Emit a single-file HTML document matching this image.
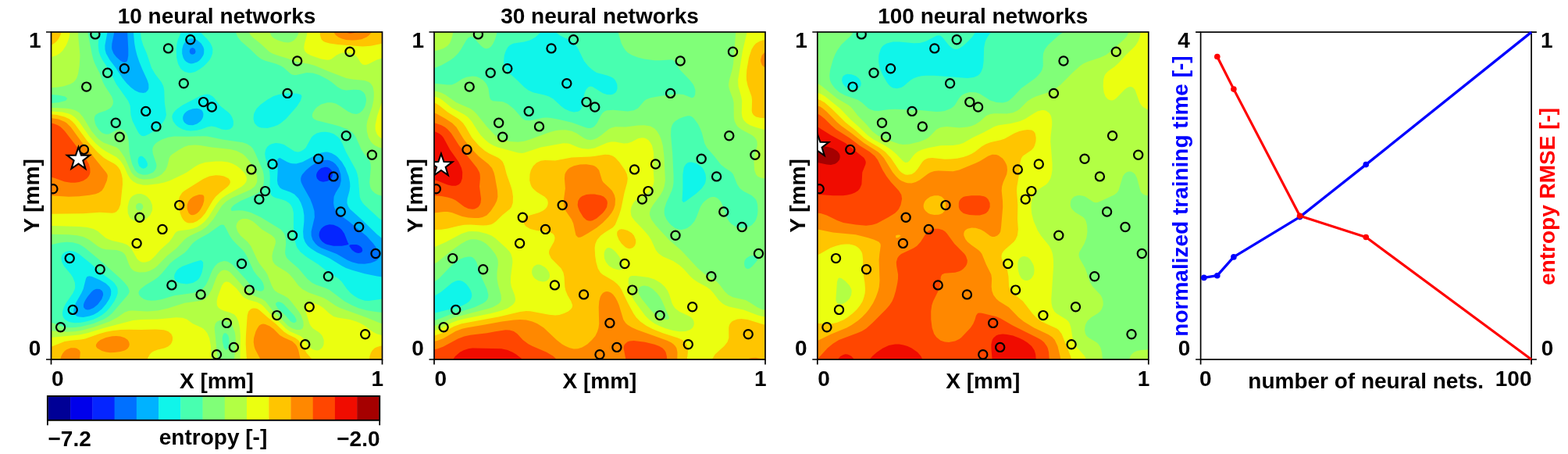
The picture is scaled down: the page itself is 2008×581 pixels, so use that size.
<!DOCTYPE html>
<html><head><meta charset="utf-8"><title>Neural network entropy maps</title>
<style>html,body{margin:0;padding:0;background:#fff;overflow:hidden}svg{display:block}</style>
</head><body>
<svg width="2008" height="581" viewBox="0 0 2008 581">
<rect width="2008" height="581" fill="#fff"/>
<defs>
<clipPath id="clip0"><rect x="0" y="0" width="424.0" height="419.0"/></clipPath>
<clipPath id="clip1"><rect x="0" y="0" width="424.0" height="419.0"/></clipPath>
<clipPath id="clip2"><rect x="0" y="0" width="424.0" height="419.0"/></clipPath>
</defs>
<g transform="translate(65.5 41.0)" clip-path="url(#clip0)">
<rect x="0" y="0" width="424.0" height="419.0" fill="#000096"/>
<path fill="#0000EB" fill-rule="evenodd" d="M-2.0 -2.0 426.0 -2.0 426.0 421.0 -2.0 421.0 -2.0 -2.0 -2.0 -2.0Z"/>
<path fill="#0525FF" fill-rule="evenodd" d="M-2.0 -2.0 426.0 -2.0 426.0 421.0 -2.0 421.0 -2.0 -2.0 -2.0 -2.0Z"/>
<path fill="#0070FF" fill-rule="evenodd" d="M-2.0 -2.0 426.0 -2.0 426.0 421.0 -2.0 421.0 -2.0 -2.0 -2.0 -2.0ZM346.0 174.1 342.6 176.8 340.7 179.4 339.7 182.0 339.6 184.6 340.5 187.6 343.2 190.3 345.8 191.3 348.5 191.7 353.8 190.8 356.4 189.4 358.7 187.2 360.1 184.6 360.5 182.0 360.1 179.4 359.0 176.8 356.4 174.2 353.8 173.1 351.1 172.8 346.0 174.1ZM351.5 247.5 348.5 249.2 345.8 251.8 343.8 255.3 343.2 257.9 343.1 260.6 343.8 263.2 345.1 265.8 347.5 268.4 351.1 270.9 353.8 272.0 361.7 273.8 372.3 273.7 377.6 272.8 380.3 272.0 381.2 271.0 380.3 270.2 375.5 257.9 372.3 253.3 369.7 250.7 367.0 248.9 361.7 246.8 356.4 246.3 351.5 247.5ZM381.6 273.7 385.4 278.9 388.7 281.5 390.9 282.4 393.5 282.9 396.2 282.5 397.9 281.5 398.8 279.3 397.9 276.3 396.2 274.4 393.5 272.8 390.9 272.1 385.6 271.9 382.9 272.3 381.6 273.7Z"/>
<path fill="#00B2FF" fill-rule="evenodd" d="M-2.0 -2.0 80.8 -2.0 81.0 -2.0 80.1 3.9 77.9 14.4 77.6 19.6 77.9 22.3 80.0 27.5 83.5 32.1 88.8 36.7 91.4 38.3 94.1 38.9 96.7 37.9 97.9 35.4 98.8 30.1 98.8 22.3 97.6 -1.3 97.6 -2.0 426.0 -2.0 426.0 421.0 -2.0 421.0 -2.0 -2.0 -2.0 -2.0ZM177.7 22.3 177.1 24.9 178.1 27.5 178.9 28.3 181.5 28.8 184.2 27.4 185.1 24.9 184.2 21.7 181.5 20.1 178.9 20.8 177.7 22.3ZM341.1 166.3 332.7 171.5 326.5 176.8 321.8 182.0 320.4 184.6 319.7 187.2 319.7 189.9 320.3 192.5 322.8 197.7 331.7 213.4 334.7 221.3 337.0 229.1 337.4 237.0 333.1 255.3 333.2 260.6 334.8 265.8 338.6 271.0 341.6 273.7 345.8 276.3 365.7 284.1 379.6 292.0 385.6 294.5 393.5 296.4 401.5 296.8 409.4 295.6 414.7 293.4 417.1 292.0 419.8 289.4 421.0 286.8 420.8 284.1 418.4 278.9 412.8 271.0 404.1 261.3 381.1 242.2 369.7 233.9 364.9 229.1 363.4 226.5 362.4 223.9 361.6 218.7 362.1 210.8 364.4 205.6 369.7 196.9 371.3 189.9 370.8 182.0 368.0 174.1 364.2 168.9 360.8 166.3 356.4 164.3 353.8 163.8 348.5 163.9 341.1 166.3ZM58.3 328.7 57.0 328.9 54.3 330.2 51.7 332.5 46.4 339.1 43.7 343.3 42.0 347.0 41.4 349.6 41.6 352.2 43.7 354.8 46.4 355.4 49.0 355.2 54.3 353.1 59.6 348.7 64.8 341.7 66.6 336.5 66.5 333.9 65.3 331.3 62.3 329.1 58.3 328.7Z"/>
<path fill="#10F5EA" fill-rule="evenodd" d="M-2.0 -2.0 72.3 -2.0 72.6 -2.0 72.3 -1.3 68.9 17.0 69.0 22.3 70.4 27.5 74.9 35.4 82.7 45.8 91.4 59.0 96.7 65.5 102.0 70.7 107.3 74.7 112.6 77.3 117.9 78.1 121.2 77.3 123.9 74.6 124.9 72.0 124.8 66.8 123.1 61.5 117.1 48.4 112.6 37.5 110.0 29.8 108.1 22.3 106.7 14.4 105.7 3.9 105.4 -2.0 426.0 -2.0 426.0 264.6 426.0 265.8 425.3 264.6 422.7 263.2 417.4 259.1 398.8 241.0 382.6 226.5 380.3 223.1 378.9 218.7 379.2 213.4 382.1 203.0 382.8 197.7 382.6 192.5 380.9 184.6 376.9 174.1 372.3 166.2 367.0 160.2 364.4 158.1 359.1 155.0 353.8 153.6 351.1 153.6 345.8 154.5 340.5 156.6 322.0 166.3 314.0 168.4 308.7 168.3 306.1 167.8 302.3 166.3 292.8 161.1 290.2 162.3 289.6 166.3 290.2 176.8 289.5 189.9 290.3 195.1 292.8 199.1 295.5 201.0 306.1 204.7 311.4 207.6 316.7 213.1 319.9 218.7 322.6 226.5 323.9 234.4 323.9 242.2 322.6 255.3 323.2 263.2 325.1 268.4 326.7 271.0 328.8 273.7 332.6 277.1 340.5 282.1 356.5 289.4 372.3 299.3 377.6 301.9 385.6 304.8 401.5 309.2 417.4 312.5 426.0 313.6 426.0 313.5 426.0 421.0 -2.0 421.0 -2.0 -2.0 -2.0 -2.0ZM175.9 9.2 172.3 11.8 170.3 14.4 169.0 17.0 167.7 22.3 167.7 27.5 169.1 32.7 170.9 35.9 173.0 38.0 176.2 39.8 178.9 40.4 181.5 40.3 186.8 38.5 189.5 36.7 192.1 34.1 194.7 30.1 195.6 27.5 195.8 22.3 194.8 18.9 192.1 14.6 186.8 10.2 181.5 8.3 178.9 8.3 175.9 9.2ZM181.4 98.2 176.2 100.0 173.6 101.6 170.9 104.1 169.6 106.1 168.7 108.7 168.7 111.3 169.5 113.9 170.9 115.9 173.6 117.9 176.2 119.0 181.5 119.3 186.8 117.6 191.5 113.9 193.4 111.3 194.5 108.7 194.9 106.1 194.7 103.4 193.5 100.8 192.1 99.6 189.5 98.2 186.8 97.8 181.4 98.2ZM46.0 312.9 44.5 315.6 41.2 328.7 38.8 333.9 31.4 347.0 28.8 354.8 28.7 357.5 29.3 360.1 30.5 361.8 33.1 363.7 35.8 364.6 41.1 364.9 49.0 363.6 54.3 361.7 59.6 358.7 64.9 354.4 70.2 348.3 74.4 341.7 76.5 336.5 76.8 331.3 76.1 328.7 74.6 326.0 70.2 321.8 62.3 317.3 51.7 312.8 49.0 312.2 46.0 312.9Z"/>
<path fill="#48FFB0" fill-rule="evenodd" d="M-2.0 -2.0 62.5 -2.0 62.7 -2.0 60.6 11.8 60.3 17.0 61.1 24.9 62.8 30.1 65.5 35.4 74.1 48.4 83.4 66.8 98.4 87.7 100.7 93.0 101.3 95.6 102.0 106.1 104.2 113.9 110.0 125.6 112.6 129.9 115.3 132.5 117.9 133.3 120.6 132.8 125.9 130.2 131.2 126.8 137.6 121.8 142.5 116.5 146.0 111.3 147.5 106.1 145.3 90.3 144.8 74.6 143.8 69.4 141.3 64.2 133.2 53.7 128.5 45.8 122.5 27.5 117.9 16.9 115.5 9.2 114.1 -1.3 114.0 -2.0 167.1 -2.0 168.5 -2.0 167.1 -1.3 162.4 9.2 161.0 14.4 160.1 22.3 160.6 32.7 162.5 40.6 165.6 46.4 168.3 49.1 170.9 50.8 176.2 52.3 178.9 52.3 184.2 50.9 189.5 48.1 194.8 44.2 198.7 40.6 203.1 35.4 204.6 32.7 206.6 27.5 206.9 22.3 206.4 19.6 204.1 14.4 200.0 9.2 192.2 1.3 188.4 -2.0 187.6 -2.0 187.6 -2.0 190.0 -2.0 426.0 -2.0 426.0 242.2 426.0 243.5 425.3 242.1 420.0 238.6 401.5 221.5 398.8 218.6 396.2 214.0 395.2 210.8 393.3 187.2 392.2 182.0 390.4 176.8 377.5 153.2 373.0 142.7 370.2 137.5 367.0 133.9 361.7 130.3 356.4 128.4 351.1 127.7 345.8 128.0 340.2 129.6 335.8 132.2 333.2 134.9 326.1 148.0 323.4 150.6 319.3 152.8 316.7 153.4 314.0 153.3 311.4 152.4 298.1 144.0 292.8 142.4 287.5 142.1 282.2 143.3 279.6 144.6 276.9 146.8 274.6 150.6 273.7 155.8 274.4 161.1 278.7 174.1 279.8 179.4 280.2 184.6 280.0 200.3 280.8 205.6 282.2 208.9 284.4 210.8 287.5 212.2 295.5 214.3 300.8 216.2 304.5 218.7 306.9 221.3 308.4 223.9 309.4 226.5 310.4 231.8 310.4 250.1 312.5 268.4 314.0 273.7 315.2 276.3 319.3 281.5 327.3 287.9 341.9 297.2 353.8 306.4 367.9 315.6 372.3 319.7 378.7 328.7 383.4 333.9 388.2 337.8 393.5 341.0 401.5 343.7 406.8 344.1 426.0 341.4 426.0 341.6 426.0 421.0 -2.0 421.0 -2.0 -2.0 -2.0 -2.0ZM196.4 79.9 192.1 81.2 168.3 93.6 161.5 98.2 158.7 100.8 156.6 103.4 155.3 106.1 154.8 108.7 156.1 113.9 160.0 119.2 163.1 121.8 168.3 124.6 173.6 126.1 178.9 126.6 186.8 125.8 192.0 124.4 200.1 121.4 205.4 120.4 210.7 121.5 218.6 124.4 223.9 125.2 228.7 124.4 231.9 122.1 233.3 119.2 233.4 113.9 231.6 108.7 229.2 105.1 226.6 102.5 217.7 95.6 215.2 93.0 209.5 85.1 207.0 82.5 202.7 80.1 200.1 79.6 196.4 79.9ZM291.4 79.9 284.9 82.0 276.9 86.5 268.0 93.0 262.9 98.2 260.1 103.4 259.4 106.1 259.0 111.3 260.4 116.5 263.7 120.3 266.3 121.8 269.0 122.6 276.9 122.9 284.9 121.1 290.2 118.9 294.2 116.5 300.8 110.9 314.5 95.6 319.5 87.7 321.0 82.5 319.9 79.9 314.0 78.5 300.8 78.5 291.4 79.9ZM111.9 161.1 111.2 163.7 111.1 166.3 112.7 171.5 115.8 174.1 117.9 174.7 120.9 174.1 123.2 171.5 123.5 168.9 122.7 166.3 120.6 162.6 117.9 159.8 115.3 158.6 112.6 159.7 111.9 161.1ZM17.9 281.5 14.8 284.1 13.4 286.8 12.9 289.4 13.8 294.6 16.6 299.8 25.2 310.0 27.8 314.1 30.4 320.8 30.7 326.0 30.3 328.7 28.0 333.9 19.0 347.0 16.3 352.2 14.7 357.5 14.5 360.1 14.7 362.7 15.7 365.3 17.7 367.9 21.8 370.6 25.2 371.6 30.5 372.2 38.4 371.7 44.8 370.6 53.6 367.9 59.8 365.3 64.9 362.3 70.9 357.5 75.5 352.2 80.9 344.4 83.7 339.1 85.3 333.9 85.1 328.7 84.2 326.0 80.8 321.1 77.8 318.2 63.1 307.7 51.7 297.1 35.6 284.1 30.5 281.2 25.2 280.0 22.5 280.0 17.9 281.5ZM182.7 294.6 168.3 299.7 163.6 302.5 160.9 305.1 158.0 310.3 157.6 312.9 158.0 315.6 159.6 318.2 163.0 320.4 165.6 321.4 173.6 322.4 181.5 321.1 186.8 318.1 189.3 315.6 190.9 312.9 193.1 307.7 194.7 299.8 194.6 294.6 192.1 292.1 189.5 292.4 182.7 294.6ZM-2.0 328.7 -2.0 331.3 -2.0 331.9 -2.0 331.9 -2.0 331.3 -2.0 328.7 -2.0 327.1 -2.0 327.1 -2.0 328.7Z"/>
<path fill="#80FF78" fill-rule="evenodd" d="M-2.0 -2.0 46.8 -2.0 46.5 -2.0 47.1 1.3 52.1 27.5 54.1 35.4 56.0 40.6 62.3 52.9 66.3 64.2 69.1 69.4 77.6 82.5 79.4 87.7 79.4 90.3 78.9 93.0 77.4 95.6 75.5 97.5 70.2 100.4 61.0 103.4 57.0 106.1 55.6 108.7 55.3 111.3 56.3 116.5 57.3 119.2 60.6 124.4 64.9 128.7 67.6 130.1 70.2 130.8 72.9 130.8 75.5 130.1 83.5 125.4 86.1 124.4 88.8 124.2 91.4 125.0 94.3 127.0 96.7 130.3 98.5 134.9 99.3 140.1 100.1 153.2 101.6 161.1 103.7 168.9 107.4 176.8 110.0 179.5 112.6 181.2 117.9 182.7 123.2 182.5 128.5 180.6 130.6 179.4 133.1 176.8 134.4 174.1 134.9 171.5 134.8 168.9 130.3 155.8 129.7 150.6 130.2 148.0 131.5 145.3 133.6 142.7 136.5 140.4 141.8 137.5 149.7 134.7 157.7 133.5 176.2 133.8 194.8 133.2 200.1 133.4 219.2 137.5 245.1 141.3 250.4 143.0 255.7 146.2 258.4 149.2 261.0 154.2 270.9 176.8 272.1 182.0 272.6 187.2 272.3 192.5 271.2 197.7 268.5 203.0 263.7 207.0 242.8 216.0 234.1 221.3 231.4 223.9 230.0 226.5 231.1 229.1 239.8 228.3 245.1 228.4 250.4 229.4 255.7 231.0 268.5 237.0 294.2 252.7 298.1 257.4 300.3 263.2 300.7 271.0 299.6 281.5 299.8 284.1 300.8 287.2 302.1 289.4 304.6 292.0 316.7 302.5 327.7 315.6 333.9 320.8 339.2 323.4 351.1 327.6 356.4 330.1 375.6 344.4 384.9 349.6 393.5 353.2 404.1 356.3 417.4 358.3 426.0 359.0 426.0 358.9 426.0 421.0 -2.0 421.0 -2.0 371.3 -2.0 370.5 -2.0 370.7 1.3 372.1 14.6 376.9 19.9 377.9 25.2 378.3 30.5 378.1 38.4 377.1 54.3 372.9 67.6 367.4 72.9 364.2 77.9 360.1 98.2 336.5 99.7 333.9 100.3 331.3 98.2 326.0 94.0 320.8 88.8 315.5 65.4 294.6 43.7 276.5 39.7 273.7 35.8 271.6 27.8 269.3 19.9 268.8 11.9 269.5 -2.0 272.7 -2.0 272.3 -2.0 91.1 -1.3 91.1 9.3 90.3 18.8 87.7 20.6 85.1 17.9 82.5 9.3 80.7 -1.3 80.0 -2.0 80.0 -2.0 -2.0 -2.0 -2.0ZM215.9 247.5 201.2 257.9 187.2 265.8 183.4 268.4 180.6 271.0 174.4 278.9 170.9 282.5 157.7 291.6 152.4 296.0 141.8 308.7 136.5 314.1 131.2 317.8 121.4 323.4 114.6 328.7 112.6 331.3 111.9 333.9 112.7 336.5 114.8 339.1 118.7 341.7 123.2 343.2 128.5 343.8 133.8 343.5 141.8 342.0 157.7 337.2 181.5 334.0 189.5 331.6 194.8 327.8 198.2 323.4 200.9 318.2 206.3 305.1 209.6 299.8 213.3 296.1 216.0 294.5 221.3 293.1 223.9 293.3 226.6 294.1 231.9 297.6 250.4 317.8 257.0 326.0 259.8 328.7 263.7 330.8 266.3 331.6 269.0 331.7 271.6 330.4 272.6 328.7 272.7 326.0 271.2 320.8 269.0 317.2 262.7 310.3 259.0 305.1 250.6 286.8 247.8 282.1 245.1 278.8 237.0 271.0 232.2 265.8 228.6 260.6 223.9 251.3 221.3 247.1 218.6 246.4 215.9 247.5ZM287.6 347.0 287.8 349.6 290.2 353.6 300.1 362.7 306.1 369.7 308.7 371.5 311.4 372.2 314.0 370.6 314.0 367.8 311.4 362.9 298.1 348.6 295.5 346.6 292.8 345.5 290.2 345.2 287.6 347.0ZM220.8 386.3 219.7 388.9 219.2 391.5 219.5 396.7 221.3 404.2 223.9 407.0 226.6 404.5 227.3 402.0 228.1 396.7 227.7 391.5 226.6 388.0 223.9 385.3 221.3 385.6 220.8 386.3ZM237.2 -2.0 426.0 -2.0 426.0 210.0 426.0 210.4 422.7 209.5 418.3 208.2 414.7 206.3 411.1 203.0 409.4 200.3 408.5 197.7 407.7 192.5 409.4 174.1 409.1 168.9 408.4 166.3 407.1 163.7 400.8 155.8 397.3 150.6 390.5 134.9 388.2 131.3 385.6 128.5 380.3 125.1 369.7 120.8 361.7 118.4 340.5 113.3 336.5 111.3 334.5 108.7 334.3 106.1 335.0 103.4 337.9 98.8 340.5 96.0 345.8 92.5 353.8 90.2 359.1 90.2 364.4 91.5 369.7 94.5 380.3 101.7 385.6 104.2 390.9 105.0 393.5 104.3 396.2 102.8 398.8 100.3 401.5 96.0 402.6 93.0 403.5 87.7 403.4 85.1 402.1 79.9 400.2 77.3 396.3 74.6 393.5 74.0 388.2 73.8 377.6 74.6 372.3 73.6 367.0 70.4 359.5 64.2 353.8 60.5 343.2 55.1 335.2 52.4 327.3 52.1 314.0 55.0 311.4 55.0 308.7 54.4 306.1 53.0 298.1 45.8 294.2 43.2 287.5 40.4 274.3 36.8 269.0 34.4 263.7 30.5 255.3 22.3 243.1 11.8 239.0 6.5 236.8 1.3 235.9 -2.0 236.2 -2.0 237.2 -2.0Z"/>
<path fill="#B2FF44" fill-rule="evenodd" d="M-2.0 -2.0 34.5 -2.0 34.8 6.5 37.0 30.1 36.2 43.2 34.5 53.7 32.7 58.9 31.1 61.5 28.6 64.2 24.2 66.8 15.5 69.4 6.6 70.7 -2.0 71.3 -2.0 71.2 -2.0 -2.0 -2.0 -2.0ZM253.1 -2.0 279.8 -2.0 279.4 -2.0 280.4 1.3 282.2 4.9 284.9 7.7 290.2 10.6 298.1 13.1 303.4 13.5 306.1 13.1 308.7 12.1 311.4 10.3 314.0 7.2 315.8 3.9 316.8 1.3 317.8 -2.0 317.4 -2.0 426.0 -2.0 426.0 148.9 426.0 149.1 420.0 147.7 414.9 145.3 412.1 143.2 409.3 140.1 406.4 134.9 404.3 127.0 404.0 119.2 404.9 113.9 411.2 95.6 412.8 87.7 413.3 82.5 413.3 77.3 412.5 72.0 411.7 69.4 409.4 66.0 406.8 64.0 401.5 62.1 385.6 60.6 377.8 58.9 353.8 49.7 337.9 42.9 329.9 40.8 314.0 38.0 303.4 33.9 290.2 30.1 283.4 27.5 279.1 24.9 269.0 15.4 258.4 7.0 255.5 3.9 253.8 1.3 252.7 -1.3 251.7 -2.0 252.7 -2.0 253.1 -2.0ZM-2.0 97.0 6.6 97.1 19.9 97.8 25.2 98.5 30.5 100.0 35.8 103.1 40.7 108.7 51.9 127.0 59.6 136.1 64.7 140.1 67.6 141.8 83.5 147.6 86.1 149.5 88.8 152.4 94.1 160.6 102.7 179.4 104.7 182.1 107.3 184.6 112.6 187.4 117.9 188.5 125.9 188.3 131.2 187.2 137.7 184.6 141.6 182.0 146.4 176.8 148.8 171.5 151.3 161.1 152.8 158.4 155.0 156.4 164.0 150.6 170.9 146.8 176.2 145.1 184.2 144.4 192.1 145.2 205.4 147.4 229.2 150.1 237.2 152.1 244.9 155.8 248.2 158.4 253.1 164.0 261.0 176.6 263.7 184.6 263.9 189.9 263.4 192.5 262.3 195.1 260.5 197.7 255.7 201.4 231.9 212.0 223.9 216.9 218.6 222.2 207.7 239.6 200.8 247.5 197.4 250.4 192.1 253.9 178.2 260.6 173.6 263.3 170.6 265.8 161.0 276.3 148.1 286.8 136.5 298.8 132.1 302.5 125.9 305.8 120.6 307.2 112.6 307.5 107.3 306.2 104.7 304.7 102.0 302.0 99.6 297.2 95.7 286.8 94.0 284.1 91.4 281.8 88.8 280.4 83.5 279.0 70.2 278.2 64.9 276.9 59.6 274.1 48.7 265.8 41.1 262.1 33.1 260.2 22.5 259.2 -2.0 258.7 -2.0 97.0 -2.0 97.0ZM112.3 218.7 110.0 219.9 108.9 221.3 108.4 223.9 109.1 226.5 110.0 227.5 112.6 228.7 115.3 227.9 116.8 226.5 117.9 223.9 117.3 221.3 115.3 219.2 112.3 218.7ZM245.1 239.0 250.4 239.0 253.1 239.7 258.2 242.2 261.6 244.9 270.1 252.7 282.2 259.9 285.8 263.2 287.1 265.8 287.5 268.4 287.2 271.0 283.8 281.5 282.9 286.8 283.4 292.0 284.5 294.6 286.4 297.2 289.6 299.8 300.8 306.5 305.4 310.3 310.0 315.6 316.7 324.6 322.0 329.3 329.9 333.4 348.5 340.1 353.8 343.0 364.4 350.3 369.7 353.1 403.5 365.3 420.0 372.1 425.3 373.6 426.0 374.1 426.0 373.6 426.0 421.0 234.5 421.0 234.4 421.0 236.4 396.7 236.0 388.9 235.1 383.6 232.0 375.8 229.2 372.4 226.6 370.5 223.9 369.4 218.6 368.7 216.0 369.0 212.5 370.6 210.2 373.2 209.1 378.4 212.9 415.1 213.2 421.0 -2.0 421.0 -2.0 382.3 -2.0 382.2 19.9 383.7 30.5 383.2 38.4 382.0 54.3 377.8 74.8 370.6 84.7 365.3 94.1 358.7 99.4 356.7 104.7 356.4 123.2 357.4 136.5 356.5 149.7 353.6 170.9 346.8 192.1 343.8 197.4 341.1 201.7 336.5 206.1 328.7 211.0 315.6 213.3 310.6 216.0 307.2 218.6 305.3 221.3 304.5 223.9 304.7 226.6 305.8 229.2 307.6 234.5 312.9 250.4 330.8 253.6 333.9 258.4 336.9 270.3 341.7 274.3 344.5 284.4 357.5 293.1 365.3 303.4 376.0 308.7 379.3 314.0 380.9 319.3 380.9 322.0 379.2 323.2 375.8 322.9 370.6 320.2 362.7 317.0 357.5 307.1 344.4 303.4 340.6 298.1 337.3 290.2 333.6 286.8 331.3 284.9 329.0 282.2 323.7 276.9 310.0 274.3 305.9 266.3 295.8 263.7 291.0 255.7 273.7 251.5 268.4 242.5 260.5 238.8 255.3 237.1 250.1 237.1 247.5 237.8 244.9 239.8 241.8 242.5 239.9 245.1 239.0Z"/>
<path fill="#EBFF10" fill-rule="evenodd" d="M-2.0 -2.0 24.3 -2.0 24.3 -1.3 23.2 6.5 21.5 11.8 19.2 17.0 14.6 23.9 10.9 27.5 6.6 30.1 1.3 31.7 -2.0 32.3 -2.0 32.1 -2.0 -2.0 -2.0 -2.0ZM329.9 -2.0 426.0 -2.0 426.0 33.2 426.0 32.8 422.7 33.7 417.1 35.4 406.8 40.8 404.1 41.8 401.5 42.1 398.8 41.4 397.8 40.6 396.2 38.9 392.5 32.7 389.8 30.1 384.9 27.5 380.3 26.5 375.0 26.3 369.7 27.4 364.8 30.1 359.1 34.4 356.4 35.4 353.8 35.7 345.8 34.4 332.6 30.1 327.9 27.5 325.3 24.9 324.1 22.3 323.7 19.6 324.5 14.4 327.4 3.9 328.2 -1.3 328.6 -2.0 328.2 -2.0 329.9 -2.0ZM426.0 84.0 426.0 82.8 426.0 82.8 426.0 86.8 426.0 137.0 426.0 137.8 425.3 137.0 422.7 135.9 420.0 134.1 417.4 130.9 415.8 127.0 415.2 124.4 415.1 119.2 417.4 107.8 422.7 92.1 425.3 86.9 426.0 84.0ZM-2.0 101.3 1.3 101.4 14.6 102.5 22.5 104.5 26.0 106.1 30.0 108.7 35.2 113.9 49.0 133.5 57.0 142.6 64.9 149.3 70.2 152.8 83.5 160.1 88.8 164.8 93.2 171.5 97.9 182.0 101.0 187.2 104.7 191.0 110.0 194.0 117.9 195.7 123.2 195.8 136.5 194.3 144.8 192.5 152.3 189.9 169.1 182.0 173.8 179.4 184.2 172.2 189.5 169.3 197.4 166.8 210.7 165.4 218.6 165.4 226.6 166.5 231.9 168.2 237.2 170.9 242.5 174.9 247.8 180.8 249.8 184.6 250.4 187.2 250.3 189.9 249.2 192.5 247.2 195.1 244.0 197.7 223.9 209.0 218.6 212.8 216.0 215.3 211.2 221.3 201.3 237.0 196.8 242.2 192.1 246.3 186.8 249.5 181.5 251.5 176.2 252.8 163.0 254.6 160.3 255.8 158.3 257.9 155.2 263.2 151.2 268.4 139.6 278.9 132.9 286.8 128.5 291.1 125.9 292.9 121.0 294.6 117.9 294.8 115.3 294.2 112.6 292.8 110.0 290.2 103.7 278.9 101.9 276.3 99.2 273.7 96.7 272.0 91.4 269.9 78.2 267.0 72.9 265.1 69.5 263.2 59.6 254.8 54.3 252.0 46.4 250.0 35.8 249.0 4.0 247.9 -2.0 247.9 -2.0 101.3 -2.0 101.3ZM107.1 208.2 104.7 209.5 102.0 212.1 99.8 216.0 98.0 223.9 98.3 231.8 100.4 237.0 102.0 238.9 104.7 240.8 110.0 242.4 115.3 242.1 120.6 239.9 123.2 238.1 126.7 234.4 129.2 229.1 129.7 226.5 129.4 221.3 127.3 216.0 125.9 213.9 123.2 211.0 120.6 209.1 115.3 207.1 112.6 206.9 110.0 207.2 107.1 208.2ZM221.3 320.7 223.9 319.4 226.6 319.7 229.2 321.0 237.2 328.1 245.1 337.9 247.8 340.2 253.1 342.8 263.7 345.8 269.0 348.5 271.6 350.7 279.9 360.1 290.2 369.1 300.8 379.7 306.1 383.2 319.3 389.1 322.4 391.5 324.5 394.1 329.9 402.0 332.6 404.6 335.2 406.2 337.9 407.1 340.5 407.4 343.2 406.9 346.7 404.6 348.3 402.0 349.1 399.4 349.2 394.1 347.3 388.9 345.8 386.9 343.2 384.6 335.2 379.3 332.6 376.3 330.9 373.2 324.3 352.2 324.6 348.5 325.9 347.0 327.3 346.4 329.9 346.0 335.2 346.6 343.2 349.5 348.5 352.9 356.4 360.2 361.7 363.9 367.0 365.6 382.9 368.1 390.9 370.6 396.2 372.8 401.5 375.8 412.1 383.7 417.4 386.4 422.7 387.8 426.0 388.4 426.0 388.1 426.0 421.0 241.9 421.0 242.4 388.9 241.6 378.4 239.8 370.2 237.2 364.4 234.5 361.5 229.2 358.9 221.3 356.7 216.9 354.8 213.8 352.2 212.4 349.6 212.1 344.4 213.2 339.1 218.6 324.6 221.3 320.7ZM160.3 365.2 168.3 365.7 173.6 367.6 181.5 373.3 192.1 378.0 194.8 379.6 197.4 382.0 200.1 385.7 202.7 391.9 204.5 402.0 204.7 421.0 -2.0 421.0 -2.0 391.0 1.3 390.8 35.8 387.6 46.4 385.3 67.6 378.8 104.7 368.9 114.7 367.9 136.5 367.5 160.3 365.2Z"/>
<path fill="#FFC500" fill-rule="evenodd" d="M-2.0 -2.0 13.4 -2.0 13.9 -2.0 12.8 1.3 11.9 4.0 9.3 9.0 6.6 12.2 3.9 14.4 1.3 15.9 -2.0 17.4 -2.0 17.7 -2.0 16.9 -2.0 -2.0 -2.0 -2.0ZM345.8 -2.0 426.0 -2.0 426.0 14.4 426.0 14.1 422.7 14.9 409.4 17.8 398.8 18.6 367.0 16.0 356.6 14.4 351.1 13.0 348.5 11.7 346.0 9.2 344.4 3.9 343.9 -2.0 344.0 -2.0 345.8 -2.0ZM-2.0 105.3 -1.3 105.3 7.5 106.1 17.2 108.4 23.2 111.3 26.6 113.9 30.5 118.0 46.7 140.1 59.6 154.1 67.6 161.0 72.9 164.3 80.8 168.5 83.5 170.4 86.1 173.2 88.4 176.8 90.2 182.0 91.3 187.2 91.5 195.1 88.8 220.4 86.5 226.5 83.5 230.0 80.8 231.2 78.2 231.7 62.3 230.7 41.1 232.2 -2.0 232.8 -2.0 105.3 -2.0 105.3ZM202.7 184.4 210.7 183.2 216.0 183.4 221.3 184.4 227.0 187.2 229.1 189.9 229.4 192.5 228.4 195.1 226.1 197.7 216.0 205.7 210.6 210.8 206.7 216.0 197.4 231.8 192.1 238.1 186.8 242.1 181.5 244.2 176.2 244.4 173.6 243.7 170.9 242.1 168.7 239.6 167.2 237.0 165.2 231.8 163.5 223.9 163.1 218.7 163.6 213.4 164.4 210.8 167.8 205.6 170.9 202.9 194.8 188.0 202.7 184.4ZM255.7 354.4 258.4 353.5 261.0 353.5 263.7 354.1 266.3 355.4 277.4 365.3 287.5 373.2 298.1 383.6 303.4 386.9 312.7 391.5 316.7 394.5 320.5 399.4 327.3 410.9 335.5 420.3 337.0 421.0 337.7 421.0 337.7 421.0 335.6 421.0 250.4 421.0 250.5 421.0 249.2 399.4 249.4 388.9 251.2 362.7 252.7 357.5 255.7 354.4ZM88.8 381.0 99.4 380.7 115.3 381.1 133.8 380.5 144.4 381.3 149.7 383.0 153.7 386.3 155.1 388.9 155.6 391.5 155.5 394.1 154.7 396.7 153.2 399.4 149.7 402.6 145.1 404.6 136.5 406.6 131.2 408.5 128.5 410.2 126.3 412.5 123.6 417.7 122.7 421.0 123.0 421.0 -2.0 421.0 -2.0 402.9 -2.0 403.8 -2.0 403.5 17.2 396.1 25.2 394.7 38.4 393.4 43.7 392.4 61.4 386.3 70.2 383.7 78.2 382.2 88.8 381.0ZM422.7 401.5 426.0 400.9 426.0 401.2 426.0 421.0 407.1 421.0 407.1 420.3 407.9 415.1 409.4 410.5 411.4 407.2 414.2 404.6 417.4 402.9 422.7 401.5Z"/>
<path fill="#FF8800" fill-rule="evenodd" d="M361.7 -2.0 411.1 -2.0 412.2 -2.0 411.1 -1.3 409.7 1.3 406.8 4.5 403.9 6.5 397.5 9.2 390.9 10.3 385.6 10.6 377.6 9.9 372.3 8.6 367.8 6.5 364.5 3.9 362.6 1.3 361.4 -1.3 360.8 -2.0 360.5 -2.0 361.4 -2.0 361.7 -2.0ZM-2.0 109.8 -1.3 109.8 9.3 111.4 17.2 114.8 19.9 116.6 25.2 121.8 40.5 142.7 70.3 179.4 71.9 182.0 72.4 184.6 71.4 189.9 67.6 199.1 64.9 203.0 61.3 205.6 57.0 207.2 49.0 208.8 35.8 210.3 22.5 210.7 -1.3 209.2 -2.0 209.2 -2.0 109.8 -2.0 109.8ZM189.5 208.1 193.3 208.2 194.8 208.8 195.9 210.8 195.8 216.0 194.3 221.3 191.6 226.5 189.5 229.5 186.8 232.0 184.2 233.6 181.5 234.3 178.9 233.9 176.2 231.8 174.2 226.5 174.2 221.3 175.0 218.7 176.2 216.0 178.4 213.4 181.5 211.1 184.2 209.7 189.5 208.1ZM269.0 374.0 271.6 373.6 274.3 374.1 279.6 376.2 284.9 380.1 292.8 387.9 298.1 391.0 308.7 395.8 312.8 399.4 314.6 402.0 316.7 407.2 319.0 417.7 319.8 421.0 319.5 421.0 268.4 421.0 269.1 421.0 268.4 420.3 267.4 417.7 261.0 405.4 260.0 402.0 259.2 396.7 259.6 391.5 261.9 383.6 263.7 379.8 266.3 375.8 269.0 374.0ZM70.2 391.0 78.2 389.3 83.5 389.1 88.8 389.6 94.1 391.2 98.1 394.1 99.7 396.7 100.3 399.4 99.9 402.0 98.4 404.6 96.7 406.1 94.1 407.6 88.8 409.1 80.8 410.1 75.5 410.2 70.2 409.6 64.9 408.1 58.9 404.6 57.3 402.0 57.7 399.4 59.6 396.7 63.0 394.1 70.2 391.0ZM25.2 404.3 30.5 404.3 33.1 405.0 36.3 407.2 37.3 409.8 36.4 421.0 36.6 421.0 11.5 421.0 11.3 421.0 12.8 415.1 14.6 411.4 17.2 408.2 19.9 406.2 25.2 404.3ZM425.3 417.5 426.0 416.2 426.0 415.7 426.0 415.7 426.0 417.5 426.0 421.0 422.9 421.0 421.6 421.0 422.7 420.9 425.3 417.5Z"/>
<path fill="#FF4600" fill-rule="evenodd" d="M375.0 -2.0 375.4 -2.0 392.4 -2.0 394.6 -2.0 395.0 -2.0 394.3 -2.0 392.4 -1.3 388.2 1.0 382.9 1.7 380.2 1.3 375.5 -1.3 373.8 -2.0 373.1 -2.0 373.1 -2.0 375.0 -2.0ZM-2.0 116.2 -2.0 116.0 4.0 117.4 8.5 119.2 11.9 121.3 17.2 126.4 43.8 161.1 48.3 168.9 49.8 174.1 50.0 179.4 49.4 182.0 48.1 184.6 45.8 187.2 41.1 190.2 35.8 191.9 30.5 192.7 25.2 192.8 17.2 191.4 4.0 186.7 -1.3 185.4 -2.0 184.8 -2.0 185.4 -2.0 116.2 -2.0 116.2Z"/>
</g>
<g transform="translate(556.0 41.0)" clip-path="url(#clip1)">
<rect x="0" y="0" width="424.0" height="419.0" fill="#000096"/>
<path fill="#0000EB" fill-rule="evenodd" d="M-2.0 -2.0 426.0 -2.0 426.0 421.0 -2.0 421.0 -2.0 -2.0 -2.0 -2.0Z"/>
<path fill="#0525FF" fill-rule="evenodd" d="M-2.0 -2.0 426.0 -2.0 426.0 421.0 -2.0 421.0 -2.0 -2.0 -2.0 -2.0Z"/>
<path fill="#0070FF" fill-rule="evenodd" d="M-2.0 -2.0 426.0 -2.0 426.0 421.0 -2.0 421.0 -2.0 -2.0 -2.0 -2.0Z"/>
<path fill="#00B2FF" fill-rule="evenodd" d="M-2.0 -2.0 426.0 -2.0 426.0 421.0 -2.0 421.0 -2.0 -2.0 -2.0 -2.0Z"/>
<path fill="#10F5EA" fill-rule="evenodd" d="M-2.0 -2.0 426.0 -2.0 426.0 421.0 -2.0 421.0 -2.0 -2.0 -2.0 -2.0Z"/>
<path fill="#48FFB0" fill-rule="evenodd" d="M-2.0 -2.0 137.3 -2.0 138.9 -2.0 138.9 -2.0 138.4 -2.0 135.4 1.3 129.8 6.5 123.2 10.2 115.3 12.5 102.0 14.5 99.4 15.5 96.7 17.1 94.3 19.6 92.7 22.3 91.4 24.9 89.8 30.1 89.0 38.0 90.0 43.2 92.8 48.4 96.7 52.9 107.3 62.5 115.3 70.4 120.6 74.6 126.6 77.3 141.8 80.7 147.1 82.5 152.4 85.6 163.0 95.3 167.0 98.2 173.6 101.3 178.9 102.4 184.2 101.8 186.8 100.2 188.3 98.2 190.0 93.0 191.6 82.5 192.9 77.3 194.8 73.2 197.4 70.5 200.1 69.6 202.7 70.0 216.0 78.3 221.3 80.1 226.6 80.3 229.2 79.6 232.5 77.3 234.0 74.6 234.6 72.0 234.3 66.8 231.8 61.5 229.2 59.0 226.6 57.4 221.3 55.5 208.0 52.1 202.7 48.6 197.4 43.7 192.1 37.2 184.2 21.2 181.5 17.1 179.0 14.4 173.6 10.4 160.5 3.9 157.0 1.3 154.7 -1.3 153.2 -2.0 152.6 -2.0 153.0 -2.0 154.6 -2.0 426.0 -2.0 426.0 421.0 -2.0 421.0 -2.0 360.2 -2.0 360.6 -1.3 360.2 30.5 352.2 37.1 349.6 41.8 347.0 45.0 344.4 47.0 341.7 48.1 339.1 48.3 336.5 47.9 333.9 46.4 330.1 43.7 325.8 41.1 322.5 38.4 320.2 35.8 318.7 33.1 318.0 30.5 318.0 27.8 318.6 22.5 321.3 9.3 332.3 1.3 337.2 -1.3 338.1 -2.0 338.8 -2.0 338.1 -2.0 -2.0 -2.0 -2.0ZM322.5 168.9 320.7 171.5 319.6 174.1 318.4 182.0 318.4 200.3 317.5 216.0 319.3 218.1 322.0 216.7 335.2 207.1 342.6 200.3 346.2 195.1 347.3 192.5 348.2 187.2 347.5 182.0 345.8 177.5 343.7 174.1 340.5 170.9 335.2 167.9 329.9 166.6 327.3 166.6 324.6 167.3 322.5 168.9Z"/>
<path fill="#80FF78" fill-rule="evenodd" d="M-2.0 -2.0 80.6 -2.0 80.9 -2.0 79.6 3.9 78.0 9.2 75.5 14.7 72.9 18.5 70.2 20.6 67.6 21.3 64.9 20.9 62.3 19.5 59.4 17.0 51.7 8.6 49.0 6.6 46.4 6.0 43.7 7.3 41.1 10.5 34.3 22.3 30.5 27.6 25.2 32.7 19.9 36.4 9.3 42.5 1.3 45.8 -2.0 47.0 -2.0 46.4 -2.0 -2.0 -2.0 -2.0ZM237.2 -2.0 426.0 -2.0 426.0 421.0 -2.0 421.0 -2.0 369.6 -2.0 370.1 1.3 368.9 19.9 361.8 44.0 354.8 51.6 352.2 62.3 347.3 66.3 344.4 68.3 341.7 69.2 339.1 69.4 336.5 67.6 329.0 60.3 312.9 54.3 294.6 51.7 290.4 49.0 288.3 46.4 287.5 43.7 287.4 38.4 288.5 33.1 290.8 27.8 294.1 19.9 301.0 6.6 314.9 1.3 318.9 -1.3 320.1 -2.0 321.2 -2.0 320.1 -2.0 65.7 -2.0 65.6 17.2 67.6 22.5 67.4 27.8 65.2 35.8 60.1 41.1 57.8 49.0 56.5 54.3 57.1 58.8 58.9 62.3 61.2 65.2 64.2 67.1 66.8 69.4 72.0 70.9 82.5 71.6 85.1 72.9 87.1 75.5 88.3 86.1 89.0 88.8 89.6 94.1 92.0 102.0 98.2 112.6 110.3 115.3 112.2 117.9 113.1 123.2 113.2 139.1 109.8 144.4 109.6 149.7 110.0 160.3 112.0 176.2 115.8 194.8 122.5 197.4 123.1 200.1 123.1 202.7 122.3 205.4 120.5 208.6 116.5 213.3 107.0 215.7 103.4 218.6 101.2 221.3 100.2 229.2 99.7 247.8 101.4 255.7 100.2 261.0 97.5 269.0 88.3 271.6 86.3 276.9 84.2 286.3 82.5 303.4 79.9 311.4 79.3 319.3 80.1 329.9 84.2 332.6 83.3 334.2 79.9 334.5 74.6 332.9 69.4 331.5 66.8 327.4 61.5 314.9 48.4 308.7 38.7 306.1 35.9 303.4 35.3 290.2 36.2 282.2 36.2 269.0 34.6 261.0 32.6 253.1 29.6 247.8 26.2 245.1 23.6 242.4 19.6 239.8 14.4 236.6 3.9 235.6 -2.0 235.6 -2.0 235.8 -2.0 237.2 -2.0ZM319.1 108.7 314.0 110.7 308.7 114.0 306.3 116.5 304.7 119.2 303.4 123.4 303.1 132.2 305.2 155.8 306.6 184.6 306.5 192.5 305.8 197.7 304.3 203.0 297.1 218.7 294.8 226.5 294.7 231.8 295.2 234.4 297.4 239.6 300.8 244.3 303.4 247.1 308.7 250.9 314.0 252.8 316.7 252.9 322.0 251.7 324.6 250.4 328.7 247.5 333.3 242.2 335.9 237.0 340.8 223.9 343.2 220.1 345.8 217.0 350.1 213.4 353.8 211.5 356.4 210.9 359.1 211.0 361.7 211.9 363.9 213.4 367.0 217.1 369.7 222.6 374.5 237.0 377.5 242.2 380.3 245.2 385.6 248.7 390.9 250.3 396.2 250.7 398.8 250.5 404.1 248.7 406.8 247.1 411.0 242.2 412.4 239.6 413.9 234.4 414.5 229.1 414.2 221.3 412.8 216.0 411.3 213.4 406.8 209.3 396.2 203.7 391.7 200.3 388.1 195.1 382.9 181.9 380.3 178.9 372.3 173.8 367.0 169.5 358.4 158.4 349.2 148.0 346.4 142.7 343.0 129.6 340.5 122.9 337.9 117.7 332.6 110.4 329.9 108.2 327.3 107.2 324.6 107.3 319.1 108.7ZM403.9 286.8 399.7 289.4 397.9 292.0 397.2 294.6 397.1 297.2 397.7 299.8 398.8 302.0 401.5 303.2 404.1 302.4 407.4 299.8 412.0 294.6 413.8 292.0 414.8 289.4 413.1 286.8 412.1 286.4 406.8 286.1 403.9 286.8Z"/>
<path fill="#B2FF44" fill-rule="evenodd" d="M-2.0 -2.0 24.3 -2.0 24.4 -2.0 23.6 3.9 21.2 11.8 19.8 14.4 17.2 17.5 11.9 21.1 4.0 23.6 -2.0 24.4 -2.0 24.3 -2.0 -2.0 -2.0 -2.0ZM388.2 -2.0 426.0 -2.0 426.0 187.6 426.0 187.7 420.0 187.0 414.7 185.1 412.1 182.3 410.2 176.8 409.5 166.3 410.3 158.4 413.8 145.3 413.5 140.1 412.4 137.5 410.5 134.9 407.5 132.2 393.5 124.7 389.5 121.8 387.2 119.2 384.7 113.9 383.8 108.7 383.6 90.3 382.4 85.1 378.4 74.6 377.2 69.4 377.1 66.8 377.9 61.5 381.6 48.4 383.1 40.6 386.2 1.3 386.4 -2.0 388.2 -2.0ZM-2.0 75.2 -1.3 75.2 4.0 76.0 9.3 77.7 14.6 80.4 28.4 90.3 46.4 98.1 50.2 100.8 54.3 104.8 67.6 121.3 78.1 132.2 81.7 134.9 86.1 137.2 96.7 140.1 107.3 140.8 115.3 139.7 122.4 137.5 147.1 128.4 155.0 126.2 160.3 125.4 168.3 125.2 176.2 126.8 182.4 129.6 192.1 136.1 195.5 137.5 200.1 138.2 204.2 137.5 208.0 135.9 213.7 132.2 223.9 124.1 226.6 122.7 231.9 121.2 245.1 121.5 261.0 119.4 269.0 119.2 276.9 120.6 282.2 123.6 285.4 127.0 288.6 132.2 290.7 137.5 292.8 145.3 294.4 158.4 295.9 189.9 294.7 197.7 292.8 203.0 289.9 208.2 280.3 221.3 277.2 226.5 275.9 231.8 276.1 234.4 277.9 239.6 283.7 247.5 300.8 266.0 316.7 279.7 337.9 302.6 347.0 310.3 361.7 319.3 365.7 323.4 372.3 332.3 376.9 336.5 382.9 339.4 398.8 343.1 404.1 345.9 413.8 352.2 420.0 354.9 425.3 356.0 426.0 356.5 426.0 356.0 426.0 421.0 -2.0 421.0 -2.0 376.4 -2.0 376.9 1.3 375.8 6.6 373.9 18.8 367.9 25.7 365.3 70.2 353.8 74.8 352.2 80.8 349.1 83.5 347.0 85.3 344.4 86.0 341.7 85.6 336.5 81.9 323.4 80.5 315.6 80.5 307.7 81.9 297.2 81.6 292.0 80.9 289.4 78.2 284.1 72.1 276.3 66.6 271.0 62.7 268.4 59.6 267.0 54.3 265.4 49.0 265.2 45.2 265.8 41.1 267.3 34.5 271.0 23.2 278.9 4.0 294.5 -1.3 297.1 -2.0 298.1 -2.0 297.1 -2.0 75.2 -2.0 75.2ZM263.8 326.0 261.9 328.7 261.4 331.3 262.7 336.5 266.0 341.7 276.9 355.2 282.2 360.9 287.5 364.7 295.5 367.7 299.3 367.9 300.8 366.7 301.0 365.3 292.0 344.4 289.1 339.1 285.2 333.9 279.7 328.7 274.3 325.6 269.0 324.6 266.3 325.0 263.8 326.0Z"/>
<path fill="#EBFF10" fill-rule="evenodd" d="M-2.0 -2.0 1.4 -2.0 3.0 -2.0 3.0 -2.0 2.5 -2.0 1.3 -1.3 -1.9 1.3 -2.0 2.4 -2.0 1.1 -2.0 -2.0 -2.0 -2.0ZM401.5 -2.0 426.0 -2.0 426.0 125.6 426.0 125.9 422.7 125.1 412.1 122.0 404.5 119.2 400.0 116.5 396.2 112.4 394.5 108.7 393.8 103.4 394.2 87.7 393.2 82.5 389.5 69.4 389.1 61.5 394.8 24.9 401.0 -1.3 401.4 -2.0 401.0 -2.0 401.5 -2.0ZM-2.0 82.1 -2.0 81.7 -1.3 82.2 4.0 83.6 7.3 85.1 11.3 87.7 22.5 97.0 38.4 105.4 43.0 108.7 47.8 113.9 56.0 127.0 59.6 131.9 64.9 137.6 70.2 142.1 75.5 145.1 80.8 147.2 107.3 154.6 112.6 155.0 115.3 154.6 136.5 147.4 165.6 142.2 170.9 142.4 173.6 143.1 184.2 147.6 189.5 149.1 197.4 149.8 205.4 148.5 221.3 141.7 226.6 140.4 231.9 140.5 242.5 142.5 247.8 142.3 253.1 140.4 261.0 136.3 266.3 135.2 269.0 135.5 271.6 136.5 274.3 138.3 276.9 141.4 279.0 145.3 280.9 153.2 281.2 158.4 280.5 174.1 281.6 189.9 280.9 195.1 278.4 200.3 274.3 204.9 269.7 208.2 260.6 213.4 257.3 216.0 255.0 218.7 252.5 223.9 251.6 229.1 252.3 234.4 253.4 237.0 257.5 242.2 267.7 252.7 274.4 260.6 277.8 265.8 283.8 278.9 287.5 283.5 292.8 287.3 306.1 293.1 314.0 298.2 319.3 303.1 328.3 312.9 332.6 316.8 337.9 320.3 348.6 326.0 353.8 329.8 357.6 333.9 364.4 343.0 369.7 347.8 372.8 349.6 377.6 351.5 396.2 355.6 414.7 362.4 420.0 363.8 426.0 365.0 426.0 364.7 426.0 421.0 -2.0 421.0 -2.0 382.5 -2.0 382.9 1.3 382.0 9.3 379.0 22.5 371.9 30.5 368.9 38.4 367.0 72.9 360.1 86.1 356.6 94.1 353.4 100.0 349.6 102.4 347.0 103.7 344.4 104.1 341.7 103.0 336.5 98.9 326.0 97.9 320.8 98.1 312.9 100.4 294.6 100.0 289.4 98.4 284.1 96.7 281.3 92.1 276.3 78.2 263.7 73.3 260.6 66.7 257.9 57.0 255.6 49.0 254.9 43.7 255.3 35.2 257.9 14.6 268.9 1.3 274.7 -2.0 276.0 -2.0 275.4 -2.0 82.2 -2.0 82.1ZM222.4 276.3 221.3 276.5 219.0 278.9 218.0 281.5 217.6 284.1 218.0 289.4 220.0 294.6 223.9 299.3 229.2 302.4 234.5 304.0 237.2 304.4 239.8 304.2 241.7 302.5 242.0 299.8 241.5 297.2 239.6 292.0 236.6 286.8 232.5 281.5 229.2 278.4 226.6 276.8 223.9 276.0 222.4 276.3ZM127.8 299.8 125.9 302.8 125.2 305.1 125.1 307.7 125.6 310.3 126.9 312.9 129.1 315.6 133.8 318.4 139.1 319.5 141.8 319.3 144.4 318.3 147.1 315.6 147.9 312.9 147.9 310.3 147.2 307.7 144.4 303.4 141.8 300.9 136.5 297.9 133.8 297.4 131.2 297.7 127.8 299.8ZM250.4 312.9 248.9 315.6 248.7 320.8 249.9 328.7 252.4 336.5 255.7 342.9 261.0 350.6 270.1 362.7 275.3 367.9 282.2 372.9 287.7 375.8 295.5 379.0 306.1 382.0 314.0 383.2 322.0 382.9 327.8 381.0 330.9 378.4 332.3 375.8 332.8 373.2 332.5 370.6 331.5 367.9 329.3 365.3 327.3 363.9 314.0 357.8 308.7 353.7 306.1 350.0 304.6 347.0 301.3 336.5 299.1 331.3 295.3 326.0 290.2 321.3 282.2 316.4 274.3 314.1 258.4 312.1 253.1 312.1 250.4 312.9Z"/>
<path fill="#FFC500" fill-rule="evenodd" d="M417.4 11.4 422.7 9.9 426.0 9.4 426.0 9.6 426.0 110.4 425.3 110.4 417.4 109.8 412.1 108.4 408.8 106.1 407.3 103.4 406.7 100.8 407.1 87.7 406.5 82.5 401.5 68.5 400.0 61.5 399.8 56.3 400.3 48.4 403.0 32.7 406.5 22.3 409.4 17.4 412.1 14.6 417.4 11.4ZM-2.0 89.8 -2.0 89.2 -1.3 89.9 1.3 90.8 6.6 94.0 17.2 102.6 31.3 111.3 37.0 116.5 40.6 121.8 48.2 134.9 57.1 145.3 64.9 152.1 70.2 155.3 82.2 161.1 85.7 163.7 87.9 166.3 90.1 171.5 92.8 182.0 98.4 197.7 99.9 203.0 101.0 210.8 100.7 218.7 98.9 223.9 96.9 226.5 87.1 234.4 79.2 242.2 75.5 245.0 72.9 246.2 67.6 247.3 62.3 247.4 46.4 246.4 38.4 246.8 30.5 248.2 17.2 251.6 9.3 252.7 -2.0 253.1 -2.0 89.9 -2.0 89.8ZM210.7 158.1 218.6 156.8 223.9 156.9 228.5 158.4 231.9 160.8 237.0 166.3 244.4 176.8 246.9 182.0 247.8 187.2 247.2 192.5 243.6 205.6 239.3 226.5 236.8 234.4 231.9 246.4 229.0 250.1 218.6 256.6 213.3 260.6 208.7 265.8 206.4 271.0 205.6 276.3 206.2 286.8 207.4 294.6 209.7 302.5 212.8 307.7 215.6 310.3 229.3 318.2 234.5 322.4 237.2 325.5 239.8 329.6 247.8 346.2 255.2 360.1 258.8 365.3 264.0 370.6 271.5 375.8 279.6 380.0 292.8 385.3 312.1 391.5 317.9 394.1 321.4 396.7 323.3 399.4 324.9 404.6 324.9 409.8 323.7 421.0 323.9 421.0 -2.0 421.0 -2.0 388.7 -2.0 389.1 1.3 388.2 9.3 385.5 25.2 376.7 34.9 373.2 83.5 364.2 110.0 357.9 117.9 356.9 123.2 357.2 147.1 361.8 155.0 362.4 160.3 361.9 166.4 360.1 171.7 357.5 175.0 354.8 176.7 352.2 177.1 349.6 175.3 344.4 170.9 337.1 168.3 330.8 167.3 326.0 166.5 312.9 165.4 307.7 162.6 302.5 149.7 289.4 147.2 284.1 147.0 281.5 147.5 278.9 153.3 268.4 154.2 265.8 154.5 263.2 153.9 260.6 152.0 257.9 147.1 255.7 131.2 253.9 123.2 251.9 117.9 249.0 116.4 247.5 115.0 244.9 114.7 242.2 115.3 239.6 117.4 237.0 122.7 234.4 133.8 231.2 139.1 228.8 142.2 226.5 144.3 223.9 145.4 221.3 145.8 218.7 145.4 216.0 144.4 213.8 141.8 210.9 131.2 204.6 126.5 200.3 124.7 197.7 123.5 195.1 122.2 189.9 122.5 182.0 123.9 176.8 126.8 171.5 131.2 167.3 136.5 164.7 141.8 163.9 155.0 164.4 176.2 160.5 200.1 159.4 210.7 158.1ZM239.8 252.3 242.5 252.4 247.8 253.9 253.1 257.3 255.9 260.6 258.1 265.8 258.3 268.4 257.9 271.0 256.7 273.7 254.0 276.3 250.4 277.2 247.8 276.7 245.1 275.4 240.2 271.0 236.5 265.8 234.4 260.6 234.1 257.9 234.5 255.3 237.2 252.8 239.8 252.3ZM388.2 367.4 393.5 366.9 401.5 367.9 420.0 373.8 425.3 374.9 426.0 375.2 426.0 374.9 426.0 421.0 355.7 421.0 355.0 421.0 355.7 420.3 356.5 417.7 359.7 412.5 371.3 402.0 375.5 396.7 377.3 391.5 377.2 378.4 377.7 375.8 378.8 373.2 381.2 370.6 382.9 369.4 388.2 367.4Z"/>
<path fill="#FF8800" fill-rule="evenodd" d="M426.0 24.4 426.0 24.1 426.0 25.0 426.0 45.8 426.0 46.5 426.0 46.3 422.7 44.7 420.0 42.5 418.2 38.0 418.1 35.4 419.6 30.1 422.7 26.6 425.3 25.1 426.0 24.4ZM-2.0 102.5 -2.0 101.6 -1.3 102.7 4.0 105.1 14.6 111.1 23.1 116.5 28.4 121.8 38.1 137.5 46.4 148.0 57.0 158.9 69.5 168.9 74.0 174.1 76.4 179.4 77.7 184.6 81.0 203.0 81.4 210.8 80.2 216.0 77.6 221.3 72.5 229.1 67.4 234.4 62.0 237.0 57.0 237.9 51.7 238.0 43.7 237.4 35.8 236.0 22.5 231.1 17.2 229.9 11.9 229.9 -2.0 231.7 -2.0 231.6 -2.0 102.6 -2.0 102.5ZM178.9 171.2 186.8 169.5 194.8 169.3 202.7 170.5 205.5 171.5 208.0 173.2 211.1 176.8 215.1 189.9 216.8 192.5 223.9 198.9 227.8 203.0 230.7 208.2 232.0 213.4 231.6 221.3 230.0 226.5 227.0 231.8 222.8 237.0 216.0 243.9 208.0 250.6 197.4 257.3 189.5 261.7 186.8 262.7 184.2 262.7 181.5 260.0 178.2 244.9 175.8 239.6 168.5 229.1 167.3 226.5 166.0 221.3 166.1 213.4 167.9 200.3 166.9 187.2 167.4 182.0 168.5 179.4 170.9 176.1 173.6 173.8 178.9 171.2ZM218.6 332.4 221.3 332.0 223.9 332.4 226.6 333.7 229.2 336.0 231.9 339.4 234.5 344.2 236.7 349.6 242.3 367.9 245.1 372.3 247.8 374.8 253.1 378.1 259.8 381.0 298.1 394.7 303.4 397.3 306.5 399.4 308.7 401.7 310.4 404.6 311.5 409.8 311.2 421.0 -2.0 421.0 -2.0 395.9 -2.0 396.1 4.0 394.9 11.9 391.9 27.8 382.8 35.8 379.8 41.2 378.4 64.9 374.6 86.7 370.6 102.0 368.4 110.0 368.0 117.9 368.6 125.8 370.6 132.2 373.2 140.4 378.4 156.8 394.1 163.8 399.4 168.3 402.0 173.6 404.3 178.9 405.4 184.2 405.2 189.5 403.5 196.2 399.4 202.0 394.1 206.3 388.9 209.0 383.6 210.5 378.4 211.2 373.2 210.7 352.2 211.3 344.4 212.7 339.1 214.0 336.5 216.0 334.0 218.6 332.4ZM404.1 417.6 406.8 416.9 412.1 416.7 426.0 419.6 426.0 419.2 426.0 421.0 400.2 421.0 398.3 421.0 397.9 421.0 398.5 421.0 400.2 420.3 404.1 417.6Z"/>
<path fill="#FF4600" fill-rule="evenodd" d="M-2.0 116.1 -2.0 115.8 1.3 116.6 9.3 119.2 13.9 121.8 17.2 124.4 21.8 129.6 31.9 145.3 54.9 174.1 57.9 179.4 58.6 182.0 58.9 187.2 58.0 197.7 60.1 213.4 59.5 218.7 58.4 221.3 56.4 223.9 54.3 225.3 51.7 226.4 49.0 226.7 43.7 226.0 38.4 223.4 27.8 215.4 22.5 212.9 17.2 211.5 9.3 210.1 -1.3 209.0 -2.0 209.0 -2.0 116.2 -2.0 116.1ZM194.8 208.1 200.1 207.5 205.4 207.6 213.3 208.9 217.2 210.8 220.0 213.4 221.5 216.0 221.9 218.7 221.1 223.9 218.6 228.2 215.7 231.8 208.0 238.5 202.7 241.2 200.1 241.7 197.4 241.5 194.8 240.5 191.0 237.0 186.1 229.1 184.2 223.9 183.7 221.3 184.3 216.0 186.8 212.0 189.5 210.0 194.8 208.1ZM78.2 383.2 91.4 381.3 96.7 381.6 102.0 383.1 106.5 386.3 113.6 394.1 120.6 399.2 125.9 402.0 144.0 409.8 152.4 414.8 155.6 417.7 157.7 420.3 159.0 421.0 159.5 421.0 157.7 421.0 -2.0 421.0 -2.0 406.5 -2.0 406.8 4.0 405.5 11.9 402.6 30.5 392.5 38.4 389.4 46.4 387.7 67.6 385.3 78.2 383.2ZM247.8 396.3 250.4 395.6 255.7 395.1 269.8 396.7 282.2 399.7 288.2 402.0 292.5 404.6 295.1 407.2 296.6 409.8 297.9 415.1 298.4 421.0 298.3 421.0 245.5 421.0 245.8 421.0 242.6 404.6 242.9 402.0 244.0 399.4 247.8 396.3Z"/>
<path fill="#F00C00" fill-rule="evenodd" d="M-2.0 126.7 -2.0 126.3 1.3 127.5 6.6 129.9 9.5 132.2 11.8 134.9 20.2 150.6 31.4 166.3 35.0 174.1 36.2 179.4 35.9 187.2 34.1 192.5 31.8 195.1 27.8 196.8 22.5 196.8 17.2 195.5 4.0 190.2 -1.3 188.8 -2.0 188.3 -2.0 188.8 -2.0 126.8 -2.0 126.7ZM49.0 404.4 86.1 405.2 94.1 407.1 100.4 409.8 105.0 412.5 111.7 417.7 113.9 420.3 115.3 421.0 115.9 421.0 115.9 421.0 113.9 421.0 23.6 421.0 22.6 421.0 22.9 421.0 25.0 417.7 26.9 415.1 32.9 409.8 37.7 407.2 43.7 405.2 49.0 404.4Z"/>
</g>
<g transform="translate(1046.8 41.0)" clip-path="url(#clip2)">
<rect x="0" y="0" width="424.0" height="419.0" fill="#000096"/>
<path fill="#0000EB" fill-rule="evenodd" d="M-2.0 -2.0 426.0 -2.0 426.0 421.0 -2.0 421.0 -2.0 -2.0 -2.0 -2.0Z"/>
<path fill="#0525FF" fill-rule="evenodd" d="M-2.0 -2.0 426.0 -2.0 426.0 421.0 -2.0 421.0 -2.0 -2.0 -2.0 -2.0Z"/>
<path fill="#0070FF" fill-rule="evenodd" d="M-2.0 -2.0 426.0 -2.0 426.0 421.0 -2.0 421.0 -2.0 -2.0 -2.0 -2.0Z"/>
<path fill="#00B2FF" fill-rule="evenodd" d="M-2.0 -2.0 426.0 -2.0 426.0 421.0 -2.0 421.0 -2.0 -2.0 -2.0 -2.0Z"/>
<path fill="#10F5EA" fill-rule="evenodd" d="M-2.0 -2.0 426.0 -2.0 426.0 421.0 -2.0 421.0 -2.0 -2.0 -2.0 -2.0Z"/>
<path fill="#48FFB0" fill-rule="evenodd" d="M-2.0 -2.0 202.8 -2.0 203.7 -2.0 203.5 -2.0 201.8 1.3 198.1 6.5 193.1 11.8 186.8 17.6 181.5 21.1 178.9 21.9 176.2 22.0 173.6 21.2 171.2 19.6 168.3 16.9 160.3 6.9 157.7 4.7 155.0 4.2 152.4 4.8 139.1 11.7 131.2 13.9 123.2 14.3 104.7 12.5 96.7 12.6 88.9 14.4 84.7 17.0 82.3 19.6 80.8 22.3 78.5 30.1 78.3 38.0 79.7 45.8 83.5 54.7 88.8 63.9 91.4 67.6 94.1 70.0 96.7 71.5 102.0 72.3 107.3 71.0 110.0 69.4 119.4 61.5 123.2 59.3 128.5 57.3 133.1 56.3 139.1 55.7 149.7 55.8 192.1 59.0 200.1 58.0 205.4 55.7 207.7 53.7 209.6 51.1 211.7 45.8 212.8 38.0 213.4 19.6 215.0 11.8 217.7 6.5 221.4 1.3 223.5 -2.0 223.9 -2.0 222.7 -2.0 426.0 -2.0 426.0 421.0 -2.0 421.0 -2.0 -2.0 -2.0 -2.0ZM33.0 56.3 31.7 58.9 31.3 61.5 31.8 64.2 33.0 66.8 35.3 69.4 38.4 71.4 43.7 73.1 49.0 73.2 52.7 72.0 55.2 69.4 56.0 66.8 55.7 64.2 54.7 61.5 52.7 58.9 49.2 56.3 43.7 54.2 38.4 53.7 35.8 54.4 33.0 56.3Z"/>
<path fill="#80FF78" fill-rule="evenodd" d="M-2.0 -2.0 46.8 -2.0 47.8 -2.0 46.8 -1.3 43.6 3.9 30.5 16.2 25.2 23.7 22.5 28.9 19.9 35.6 16.3 48.4 15.4 56.3 16.1 61.5 17.1 64.2 18.5 66.8 22.4 72.0 28.3 77.3 35.8 81.2 51.7 86.8 57.0 90.3 64.9 97.6 67.6 99.1 72.9 100.7 78.2 100.9 91.4 99.1 99.4 98.8 131.2 99.9 152.4 101.9 157.7 101.7 163.0 100.9 170.9 97.8 174.1 95.6 176.2 93.3 181.2 85.1 184.2 81.6 186.4 79.9 189.5 78.4 194.8 77.1 202.7 77.3 208.0 78.9 221.3 87.4 229.2 90.1 237.2 90.5 242.5 89.2 245.3 87.7 250.4 83.3 261.0 72.0 279.1 58.9 282.2 56.1 286.3 51.1 287.6 48.4 289.0 43.2 288.8 32.7 289.2 27.5 291.2 22.3 295.5 16.6 308.7 4.4 314.0 0.8 316.7 -0.1 319.3 -0.2 327.3 0.5 329.9 -0.3 331.1 -1.3 332.6 -2.0 333.2 -2.0 332.9 -2.0 331.2 -2.0 426.0 -2.0 426.0 388.9 426.0 387.5 426.0 387.1 426.0 387.7 425.3 388.9 426.0 391.5 426.0 391.9 426.0 391.5 426.0 389.0 426.0 421.0 -2.0 421.0 -2.0 -2.0 -2.0 -2.0Z"/>
<path fill="#B2FF44" fill-rule="evenodd" d="M-2.0 -2.0 0.1 -2.0 0.3 -2.0 -0.9 14.4 1.3 30.2 1.4 38.0 0.3 43.2 -1.3 47.2 -2.0 50.3 -2.0 51.7 -2.0 51.7 -2.0 47.2 -2.0 -2.0 -2.0 -2.0ZM401.5 -2.0 426.0 -2.0 426.0 209.6 425.3 209.6 420.0 208.8 417.4 207.7 414.9 205.6 413.5 203.0 409.4 187.3 406.8 182.1 404.1 179.7 401.5 178.5 398.8 178.4 396.2 179.2 393.5 181.2 391.2 184.6 385.6 202.7 383.7 205.6 380.3 208.3 359.1 218.1 356.4 218.3 353.8 217.8 343.2 210.7 340.5 209.7 335.2 208.9 332.6 209.2 328.6 210.8 325.8 213.4 324.4 216.0 323.9 221.3 324.6 223.9 325.9 226.5 329.9 230.5 340.5 237.1 342.7 239.6 344.0 242.2 345.3 247.5 345.7 255.3 344.6 263.2 341.7 271.0 335.5 281.5 334.8 284.1 334.9 286.8 335.7 289.4 343.0 302.5 349.3 320.8 352.6 326.0 362.6 336.5 364.4 339.7 365.8 344.4 365.9 349.6 364.0 354.8 362.0 357.5 359.1 360.0 350.5 365.3 345.8 369.7 343.8 373.2 342.9 375.8 342.2 381.0 343.2 386.2 344.8 388.9 347.8 391.5 356.4 396.4 359.1 398.6 361.6 402.0 362.8 404.6 364.2 409.8 365.1 417.7 365.2 421.0 -2.0 421.0 -2.0 64.6 -2.0 62.7 -2.0 62.7 -1.3 64.7 4.0 68.0 25.2 85.0 38.9 93.0 42.3 95.6 44.9 98.2 51.7 107.1 62.3 117.8 70.2 127.0 77.0 132.2 88.3 137.5 104.7 143.3 110.0 144.1 117.9 143.4 131.2 140.2 138.1 137.5 142.3 134.9 144.4 133.0 152.4 124.7 157.7 121.9 165.6 121.0 181.5 122.4 192.1 121.6 197.4 120.3 202.7 118.0 208.0 114.4 216.0 107.3 221.3 105.0 226.6 104.2 242.5 104.6 250.4 103.3 255.7 100.8 258.4 98.9 269.0 88.6 274.3 85.0 279.6 82.6 295.5 77.3 303.4 73.5 311.4 67.5 327.3 51.4 336.5 43.2 340.5 40.6 345.9 38.0 361.9 32.7 369.7 29.2 375.0 25.3 392.9 9.2 396.2 5.4 398.8 -0.0 399.9 -2.0 399.2 -2.0 401.5 -2.0ZM414.7 406.9 425.3 406.3 426.0 406.3 426.0 421.0 399.0 421.0 398.7 421.0 399.7 417.7 400.7 415.1 402.4 412.5 405.4 409.8 409.4 408.0 414.7 406.9Z"/>
<path fill="#EBFF10" fill-rule="evenodd" d="M414.7 -2.0 426.0 -2.0 426.0 99.8 426.0 100.2 422.7 99.1 417.4 96.3 414.7 93.6 412.6 90.3 406.8 73.9 404.1 71.0 401.5 70.0 398.8 70.2 396.2 71.4 393.5 73.4 382.9 84.6 380.3 86.5 377.6 87.4 375.0 87.3 372.3 86.2 371.0 85.1 368.8 82.5 366.8 77.3 365.9 69.4 366.2 61.5 367.5 56.3 368.9 53.7 372.3 50.1 380.3 44.4 385.6 39.8 394.4 30.1 405.3 19.6 407.6 17.0 410.8 11.8 412.7 6.5 413.7 1.3 414.1 -2.0 413.9 -2.0 414.7 -2.0ZM-2.0 77.1 -2.0 76.6 -1.3 77.3 4.0 78.9 9.3 81.9 29.5 98.2 41.8 111.3 54.3 122.4 64.5 132.2 71.9 137.5 86.5 145.3 94.4 150.6 100.6 155.8 110.0 165.6 112.6 167.0 115.3 166.8 116.1 166.3 117.9 164.8 122.5 158.4 125.0 155.8 128.5 153.1 133.9 150.6 141.8 148.3 157.7 145.3 173.6 145.0 181.5 143.8 186.8 141.9 199.0 134.9 213.3 128.2 226.6 121.0 231.9 119.2 247.8 117.0 259.7 113.9 266.3 111.1 276.9 104.2 282.2 101.3 287.5 100.1 290.2 100.1 292.9 100.8 296.7 103.4 298.5 106.1 299.5 108.7 300.4 113.9 300.4 119.2 298.9 132.2 298.5 140.1 300.8 168.9 300.7 176.8 299.9 182.0 298.5 187.2 295.5 192.6 292.8 195.3 282.2 202.0 279.6 204.5 276.9 208.4 275.0 213.4 273.9 218.7 273.7 223.9 274.3 231.8 276.9 242.0 282.2 254.3 286.2 260.6 296.9 273.7 299.6 278.9 301.2 284.1 302.2 292.0 302.3 299.8 299.5 341.7 299.7 347.0 300.8 352.2 303.4 357.4 306.0 360.1 318.9 367.9 321.5 370.6 323.1 373.2 324.7 378.4 326.8 391.5 328.5 396.7 332.6 403.7 342.5 415.1 344.8 420.3 345.5 421.0 344.8 421.0 -2.0 421.0 -2.0 77.3 -2.0 77.1ZM259.2 289.4 257.4 292.0 256.4 297.2 257.1 305.1 258.5 310.3 261.0 314.9 263.7 317.1 266.3 318.0 269.0 317.9 271.6 317.0 274.3 315.0 277.1 310.3 277.8 305.1 277.1 299.8 276.2 297.2 273.2 292.0 271.6 290.1 269.0 288.1 266.3 287.2 263.7 287.1 261.0 288.0 259.2 289.4ZM26.6 315.6 25.2 319.6 23.6 341.7 24.0 344.4 25.3 347.0 27.8 348.2 30.5 348.2 33.1 347.4 35.8 345.9 38.4 343.9 41.1 341.0 43.3 336.5 43.9 331.3 43.3 328.7 41.1 324.4 35.8 318.8 30.5 314.9 27.8 314.4 26.6 315.6ZM426.0 417.6 426.0 418.4 426.0 421.0 421.2 421.0 418.2 421.0 418.2 421.0 419.0 421.0 421.3 420.3 422.7 419.5 425.3 418.5 426.0 417.6Z"/>
<path fill="#FFC500" fill-rule="evenodd" d="M-2.0 85.0 -2.0 84.7 -1.3 85.3 4.0 87.2 9.3 90.3 18.4 98.2 35.8 115.6 49.0 126.1 59.6 135.5 66.1 140.1 79.6 148.0 86.7 153.2 93.9 161.1 104.7 177.1 107.3 179.6 110.0 181.3 112.6 182.4 115.3 182.8 120.6 181.9 124.6 179.4 128.5 175.1 134.3 166.3 136.5 164.1 139.1 162.5 141.8 161.6 147.1 161.1 163.0 162.7 170.9 162.6 178.9 161.7 186.8 160.0 192.1 158.3 197.7 155.8 201.8 153.2 210.7 146.2 216.0 143.2 221.3 141.2 234.5 138.3 239.8 136.6 252.3 129.6 258.4 127.1 263.7 125.7 269.0 125.0 274.3 125.6 276.9 127.0 278.8 129.6 279.9 134.9 279.7 140.1 278.2 145.3 276.9 148.0 274.3 151.0 263.2 158.4 261.0 161.8 259.8 166.3 258.3 182.0 255.6 197.7 255.2 203.0 256.6 221.3 256.2 239.6 257.1 252.7 256.1 260.6 253.6 265.8 251.5 268.4 239.8 278.7 237.5 281.5 236.2 284.1 235.7 286.8 235.9 289.4 236.8 292.0 241.0 299.8 243.3 305.1 244.7 312.9 245.3 326.0 247.8 331.3 250.4 334.1 263.2 344.4 275.2 360.1 280.1 365.3 287.5 370.8 306.1 379.2 308.7 381.1 312.8 386.3 324.3 415.1 325.9 420.3 326.6 421.0 325.9 421.0 -2.0 421.0 -2.0 372.6 -2.0 372.3 9.3 373.6 17.2 373.5 25.2 371.8 33.1 368.5 38.4 365.3 45.2 360.1 50.7 354.8 54.8 349.6 57.8 344.4 59.7 339.1 60.9 333.9 61.2 328.7 60.6 320.8 58.0 305.1 58.4 292.0 57.5 284.1 56.6 281.5 54.3 278.0 51.7 275.4 49.0 273.7 46.4 272.7 41.1 271.5 35.8 271.4 30.5 272.1 23.7 273.7 16.7 276.3 4.0 283.6 -1.3 286.0 -2.0 287.0 -2.0 286.0 -2.0 85.3 -2.0 85.0Z"/>
<path fill="#FF8800" fill-rule="evenodd" d="M-2.0 92.9 -1.3 93.7 3.5 95.6 6.6 97.5 11.9 101.9 25.2 115.4 30.5 120.1 43.7 129.5 59.6 142.0 77.4 153.2 80.8 156.2 85.0 161.1 96.4 179.4 100.6 184.6 104.7 188.4 107.3 190.3 112.6 192.6 115.3 193.3 120.6 193.4 125.9 192.1 131.2 189.3 141.8 181.2 145.0 179.4 149.7 177.9 155.0 177.5 173.6 178.2 181.5 176.5 202.7 167.8 208.0 165.2 218.6 158.7 223.9 156.8 229.2 156.9 231.9 157.9 237.2 161.8 239.8 165.2 241.8 168.9 242.7 171.5 243.2 176.8 242.4 182.0 237.8 192.5 236.3 197.7 235.9 203.0 237.2 216.0 237.4 223.9 235.2 250.1 234.4 255.3 233.0 257.9 230.4 260.6 226.6 262.0 223.9 262.0 221.3 261.1 213.6 255.3 209.1 252.7 202.7 250.8 197.4 250.5 192.1 251.7 189.5 253.5 188.1 255.3 187.4 257.9 187.6 260.6 189.5 264.9 192.2 268.4 197.4 272.8 206.2 278.9 208.8 281.5 210.7 284.3 216.0 297.2 222.5 310.3 223.3 315.6 222.9 326.0 223.5 331.3 225.4 336.5 229.2 341.6 232.6 344.4 245.1 352.3 257.7 365.3 264.2 370.6 277.4 378.4 295.5 386.9 300.8 390.6 303.9 394.1 307.7 402.0 310.8 415.1 311.7 421.0 311.5 421.0 -2.0 421.0 -2.0 395.3 -2.0 396.1 -1.3 395.3 1.3 394.5 17.2 386.8 37.4 378.4 43.7 374.9 51.7 369.4 57.0 364.9 62.3 359.4 66.1 354.8 71.2 347.0 75.0 339.1 77.8 331.3 79.0 326.0 79.7 318.2 78.8 292.0 79.5 284.1 81.0 273.7 80.7 271.0 78.6 268.4 72.6 265.8 64.8 263.2 49.0 259.2 19.9 256.6 -1.3 252.2 -2.0 251.9 -2.0 252.2 -2.0 93.6 -2.0 92.9ZM144.5 210.8 140.5 213.4 138.0 216.0 136.6 218.7 135.9 221.3 135.9 223.9 136.7 226.5 138.5 229.1 141.8 231.8 144.4 232.9 149.7 234.0 155.0 233.8 157.7 233.1 160.3 231.7 163.0 228.5 164.3 223.9 164.1 218.7 163.4 216.0 161.9 213.4 159.1 210.8 155.0 209.2 149.7 209.2 144.5 210.8ZM100.3 260.6 100.4 263.2 102.0 263.4 104.7 262.6 106.8 260.6 104.7 259.4 102.0 259.8 100.3 260.6Z"/>
<path fill="#FF4600" fill-rule="evenodd" d="M-2.0 103.4 -2.0 103.5 1.3 105.3 4.0 106.8 9.3 111.0 17.6 119.2 23.7 124.4 41.1 135.5 54.3 145.5 66.9 153.2 73.3 158.4 77.3 163.7 83.6 176.8 88.4 184.6 94.1 191.9 104.2 203.0 107.5 208.2 108.3 213.4 106.7 221.3 104.2 226.5 102.2 229.1 99.4 231.8 90.9 237.0 76.1 244.9 70.2 246.8 62.3 247.7 49.0 246.6 33.1 243.9 25.2 241.1 11.9 234.5 4.0 232.1 -2.0 231.3 -2.0 231.5 -2.0 104.1 -2.0 103.4ZM189.5 210.2 197.4 209.2 208.0 209.2 213.3 210.2 216.0 211.5 218.6 213.9 220.8 218.7 220.9 223.9 218.7 229.1 216.0 231.8 213.3 233.1 208.0 234.4 202.7 234.6 194.8 234.0 189.5 232.8 186.7 231.8 183.5 229.1 181.8 226.5 181.0 223.9 181.0 218.7 181.7 216.0 183.5 213.4 186.8 211.1 189.5 210.2ZM147.1 252.3 149.7 251.8 155.0 251.8 160.3 253.3 163.5 255.3 166.0 257.9 175.5 271.0 188.4 284.1 190.2 286.8 192.0 292.0 191.9 294.6 191.2 297.2 189.8 299.8 186.8 303.1 184.2 305.0 181.5 306.3 176.2 307.8 163.0 308.7 159.6 310.3 158.1 312.9 157.1 323.4 156.0 328.7 148.2 344.4 146.5 349.6 145.4 357.5 145.5 367.9 146.8 378.4 149.4 386.3 152.4 390.6 157.7 394.7 163.0 396.5 168.3 396.9 176.2 395.6 181.5 393.0 184.2 390.9 196.1 378.4 199.5 373.2 201.7 367.9 203.2 362.7 205.4 359.7 208.0 359.4 210.7 359.8 229.2 364.3 234.5 366.6 250.5 375.8 282.2 391.4 286.6 394.1 290.2 397.1 293.8 402.0 295.0 404.6 296.3 409.8 296.9 417.7 297.0 421.0 -1.0 421.0 -1.4 421.0 -2.0 421.0 -2.0 421.0 -2.0 421.0 3.3 415.1 12.9 404.6 19.9 398.7 27.6 394.1 51.7 385.1 57.0 382.8 62.3 379.5 70.2 372.5 87.9 354.8 92.4 349.6 95.7 344.4 98.0 339.1 100.3 331.3 102.5 320.8 103.2 315.6 103.3 310.3 101.4 299.8 101.0 294.6 102.4 289.4 104.2 286.8 107.3 284.1 123.2 276.4 127.4 273.7 132.2 268.4 139.1 257.4 141.8 254.8 147.1 252.3ZM-2.0 421.0 -2.0 421.0 -2.0 421.0 -2.0 421.0 -2.0 421.0 -2.0 421.0 -2.0 421.0 -2.0 421.0 -2.0 421.0Z"/>
<path fill="#F00C00" fill-rule="evenodd" d="M-2.0 120.7 -2.0 119.9 -1.3 120.9 1.3 122.0 17.2 132.1 35.8 142.0 59.6 161.1 61.2 163.7 62.0 166.3 61.7 168.9 57.5 179.4 56.6 195.1 54.3 200.3 52.0 203.0 48.1 205.6 43.7 207.3 38.4 208.6 33.1 209.2 19.9 209.3 -2.0 207.7 -2.0 207.8 -2.0 120.9 -2.0 120.7ZM229.2 388.3 231.9 387.3 237.2 386.6 242.5 386.9 250.4 388.6 258.2 391.5 263.5 394.1 269.0 397.5 274.3 402.0 277.8 407.2 279.4 412.5 280.0 420.3 280.0 421.0 223.9 421.0 224.0 421.0 222.6 404.6 222.6 399.4 223.9 394.1 225.4 391.5 229.2 388.3ZM91.4 401.1 99.4 399.6 104.7 399.6 110.0 400.4 115.3 402.0 120.6 404.4 128.2 409.8 132.7 415.1 135.1 420.3 135.9 421.0 135.1 421.0 65.9 421.0 64.3 421.0 64.3 421.0 65.9 420.3 70.1 415.1 76.1 409.8 83.5 404.8 91.4 401.1ZM35.8 412.3 38.4 412.5 41.1 413.4 43.7 415.1 46.1 417.7 47.6 420.3 48.9 421.0 47.7 421.0 25.6 421.0 24.7 421.0 25.7 420.3 27.1 417.7 29.4 415.1 33.1 412.9 35.8 412.3Z"/>
<path fill="#A50000" fill-rule="evenodd" d="M-2.0 145.0 -2.0 145.0 4.0 145.5 14.6 147.3 19.9 149.0 25.2 152.2 28.1 155.8 28.9 158.4 28.8 161.1 28.0 163.7 25.2 167.1 22.5 168.8 17.2 169.9 11.9 169.5 1.3 167.3 -2.0 166.7 -2.0 167.0 -2.0 145.1 -2.0 145.0Z"/>
</g>
<g transform="translate(65.5 41.0)" clip-path="url(#clip0)"><g fill="none" stroke="#000" stroke-width="2.2"><circle cx="56.4" cy="2.9" r="5.6"/><circle cx="178.4" cy="9.7" r="5.6"/><circle cx="150.0" cy="20.9" r="5.6"/><circle cx="93.8" cy="46.8" r="5.6"/><circle cx="72.2" cy="52.2" r="5.6"/><circle cx="169.8" cy="65.8" r="5.6"/><circle cx="45.2" cy="70.1" r="5.6"/><circle cx="195.0" cy="89.6" r="5.6"/><circle cx="205.8" cy="96.0" r="5.6"/><circle cx="121.2" cy="101.4" r="5.6"/><circle cx="82.7" cy="116.2" r="5.6"/><circle cx="134.5" cy="120.9" r="5.6"/><circle cx="87.7" cy="134.2" r="5.6"/><circle cx="42.0" cy="150.4" r="5.6"/><circle cx="2.4" cy="200.7" r="5.6"/><circle cx="382.5" cy="25.2" r="5.6"/><circle cx="315.2" cy="37.0" r="5.6"/><circle cx="302.6" cy="78.4" r="5.6"/><circle cx="377.8" cy="132.7" r="5.6"/><circle cx="410.9" cy="157.2" r="5.6"/><circle cx="342.2" cy="162.2" r="5.6"/><circle cx="283.5" cy="169.0" r="5.6"/><circle cx="256.5" cy="175.9" r="5.6"/><circle cx="361.6" cy="184.9" r="5.6"/><circle cx="274.1" cy="203.6" r="5.6"/><circle cx="164.2" cy="221.6" r="5.6"/><circle cx="113.3" cy="237.2" r="5.6"/><circle cx="142.5" cy="252.4" r="5.6"/><circle cx="109.6" cy="270.4" r="5.6"/><circle cx="23.7" cy="289.6" r="5.6"/><circle cx="62.7" cy="303.7" r="5.6"/><circle cx="154.4" cy="323.9" r="5.6"/><circle cx="191.6" cy="335.9" r="5.6"/><circle cx="27.7" cy="355.4" r="5.6"/><circle cx="12.1" cy="377.8" r="5.6"/><circle cx="212.0" cy="412.8" r="5.6"/><circle cx="266.4" cy="214.1" r="5.6"/><circle cx="370.8" cy="230.0" r="5.6"/><circle cx="394.2" cy="249.5" r="5.6"/><circle cx="309.0" cy="260.3" r="5.6"/><circle cx="415.5" cy="283.5" r="5.6"/><circle cx="244.0" cy="296.5" r="5.6"/><circle cx="354.9" cy="312.7" r="5.6"/><circle cx="253.8" cy="330.1" r="5.6"/><circle cx="330.7" cy="351.8" r="5.6"/><circle cx="289.1" cy="362.6" r="5.6"/><circle cx="224.9" cy="372.4" r="5.6"/><circle cx="402.2" cy="386.8" r="5.6"/><circle cx="233.9" cy="403.4" r="5.6"/><circle cx="325.3" cy="399.8" r="5.6"/></g><polygon points="35.0,147.3 38.5,157.6 49.4,157.8 40.8,164.4 43.9,174.8 35.0,168.6 26.0,174.8 29.1,164.4 20.5,157.8 31.4,157.6" fill="#fff" stroke="#000" stroke-width="2.1" stroke-linejoin="miter"/></g>
<g transform="translate(556.0 41.0)" clip-path="url(#clip1)"><g fill="none" stroke="#000" stroke-width="2.2"><circle cx="56.4" cy="2.9" r="5.6"/><circle cx="178.4" cy="9.7" r="5.6"/><circle cx="150.0" cy="20.9" r="5.6"/><circle cx="93.8" cy="46.8" r="5.6"/><circle cx="72.2" cy="52.2" r="5.6"/><circle cx="169.8" cy="65.8" r="5.6"/><circle cx="45.2" cy="70.1" r="5.6"/><circle cx="195.0" cy="89.6" r="5.6"/><circle cx="205.8" cy="96.0" r="5.6"/><circle cx="121.2" cy="101.4" r="5.6"/><circle cx="82.7" cy="116.2" r="5.6"/><circle cx="134.5" cy="120.9" r="5.6"/><circle cx="87.7" cy="134.2" r="5.6"/><circle cx="42.0" cy="150.4" r="5.6"/><circle cx="2.4" cy="200.7" r="5.6"/><circle cx="382.5" cy="25.2" r="5.6"/><circle cx="315.2" cy="37.0" r="5.6"/><circle cx="302.6" cy="78.4" r="5.6"/><circle cx="377.8" cy="132.7" r="5.6"/><circle cx="410.9" cy="157.2" r="5.6"/><circle cx="342.2" cy="162.2" r="5.6"/><circle cx="283.5" cy="169.0" r="5.6"/><circle cx="256.5" cy="175.9" r="5.6"/><circle cx="361.6" cy="184.9" r="5.6"/><circle cx="274.1" cy="203.6" r="5.6"/><circle cx="164.2" cy="221.6" r="5.6"/><circle cx="113.3" cy="237.2" r="5.6"/><circle cx="142.5" cy="252.4" r="5.6"/><circle cx="109.6" cy="270.4" r="5.6"/><circle cx="23.7" cy="289.6" r="5.6"/><circle cx="62.7" cy="303.7" r="5.6"/><circle cx="154.4" cy="323.9" r="5.6"/><circle cx="191.6" cy="335.9" r="5.6"/><circle cx="27.7" cy="355.4" r="5.6"/><circle cx="12.1" cy="377.8" r="5.6"/><circle cx="212.0" cy="412.8" r="5.6"/><circle cx="266.4" cy="214.1" r="5.6"/><circle cx="370.8" cy="230.0" r="5.6"/><circle cx="394.2" cy="249.5" r="5.6"/><circle cx="309.0" cy="260.3" r="5.6"/><circle cx="415.5" cy="283.5" r="5.6"/><circle cx="244.0" cy="296.5" r="5.6"/><circle cx="354.9" cy="312.7" r="5.6"/><circle cx="253.8" cy="330.1" r="5.6"/><circle cx="330.7" cy="351.8" r="5.6"/><circle cx="289.1" cy="362.6" r="5.6"/><circle cx="224.9" cy="372.4" r="5.6"/><circle cx="402.2" cy="386.8" r="5.6"/><circle cx="233.9" cy="403.4" r="5.6"/><circle cx="325.3" cy="399.8" r="5.6"/></g><polygon points="8.9,155.7 12.5,166.0 23.4,166.2 14.7,172.8 17.8,183.2 8.9,177.0 -0.0,183.2 3.1,172.8 -5.6,166.2 5.3,166.0" fill="#fff" stroke="#000" stroke-width="2.1" stroke-linejoin="miter"/></g>
<g transform="translate(1046.8 41.0)" clip-path="url(#clip2)"><g fill="none" stroke="#000" stroke-width="2.2"><circle cx="56.4" cy="2.9" r="5.6"/><circle cx="178.4" cy="9.7" r="5.6"/><circle cx="150.0" cy="20.9" r="5.6"/><circle cx="93.8" cy="46.8" r="5.6"/><circle cx="72.2" cy="52.2" r="5.6"/><circle cx="169.8" cy="65.8" r="5.6"/><circle cx="45.2" cy="70.1" r="5.6"/><circle cx="195.0" cy="89.6" r="5.6"/><circle cx="205.8" cy="96.0" r="5.6"/><circle cx="121.2" cy="101.4" r="5.6"/><circle cx="82.7" cy="116.2" r="5.6"/><circle cx="134.5" cy="120.9" r="5.6"/><circle cx="87.7" cy="134.2" r="5.6"/><circle cx="42.0" cy="150.4" r="5.6"/><circle cx="2.4" cy="200.7" r="5.6"/><circle cx="382.5" cy="25.2" r="5.6"/><circle cx="315.2" cy="37.0" r="5.6"/><circle cx="302.6" cy="78.4" r="5.6"/><circle cx="377.8" cy="132.7" r="5.6"/><circle cx="410.9" cy="157.2" r="5.6"/><circle cx="342.2" cy="162.2" r="5.6"/><circle cx="283.5" cy="169.0" r="5.6"/><circle cx="256.5" cy="175.9" r="5.6"/><circle cx="361.6" cy="184.9" r="5.6"/><circle cx="274.1" cy="203.6" r="5.6"/><circle cx="164.2" cy="221.6" r="5.6"/><circle cx="113.3" cy="237.2" r="5.6"/><circle cx="142.5" cy="252.4" r="5.6"/><circle cx="109.6" cy="270.4" r="5.6"/><circle cx="23.7" cy="289.6" r="5.6"/><circle cx="62.7" cy="303.7" r="5.6"/><circle cx="154.4" cy="323.9" r="5.6"/><circle cx="191.6" cy="335.9" r="5.6"/><circle cx="27.7" cy="355.4" r="5.6"/><circle cx="12.1" cy="377.8" r="5.6"/><circle cx="212.0" cy="412.8" r="5.6"/><circle cx="266.4" cy="214.1" r="5.6"/><circle cx="370.8" cy="230.0" r="5.6"/><circle cx="394.2" cy="249.5" r="5.6"/><circle cx="309.0" cy="260.3" r="5.6"/><circle cx="415.5" cy="283.5" r="5.6"/><circle cx="244.0" cy="296.5" r="5.6"/><circle cx="354.9" cy="312.7" r="5.6"/><circle cx="253.8" cy="330.1" r="5.6"/><circle cx="330.7" cy="351.8" r="5.6"/><circle cx="289.1" cy="362.6" r="5.6"/><circle cx="224.9" cy="372.4" r="5.6"/><circle cx="402.2" cy="386.8" r="5.6"/><circle cx="233.9" cy="403.4" r="5.6"/><circle cx="325.3" cy="399.8" r="5.6"/></g><polygon points="0.0,130.5 3.6,140.8 14.5,141.0 5.8,147.6 8.9,158.0 0.0,151.8 -8.9,158.0 -5.8,147.6 -14.5,141.0 -3.6,140.8" fill="#fff" stroke="#000" stroke-width="2.1" stroke-linejoin="miter"/></g>
<rect x="61.90" y="507" width="28.63" height="30.8" fill="#000096"/><rect x="90.13" y="507" width="28.63" height="30.8" fill="#0000EB"/><rect x="118.37" y="507" width="28.63" height="30.8" fill="#0525FF"/><rect x="146.60" y="507" width="28.63" height="30.8" fill="#0070FF"/><rect x="174.83" y="507" width="28.63" height="30.8" fill="#00B2FF"/><rect x="203.07" y="507" width="28.63" height="30.8" fill="#10F5EA"/><rect x="231.30" y="507" width="28.63" height="30.8" fill="#48FFB0"/><rect x="259.53" y="507" width="28.63" height="30.8" fill="#80FF78"/><rect x="287.77" y="507" width="28.63" height="30.8" fill="#B2FF44"/><rect x="316.00" y="507" width="28.63" height="30.8" fill="#EBFF10"/><rect x="344.23" y="507" width="28.63" height="30.8" fill="#FFC500"/><rect x="372.47" y="507" width="28.63" height="30.8" fill="#FF8800"/><rect x="400.70" y="507" width="28.63" height="30.8" fill="#FF4600"/><rect x="428.93" y="507" width="28.63" height="30.8" fill="#F00C00"/><rect x="457.17" y="507" width="28.63" height="30.8" fill="#A50000"/><rect x="60.9" y="506.9" width="425.3" height="30.9" fill="none" stroke="#000" stroke-width="1.9"/>
<g fill="none" stroke="#000" stroke-width="1.7" stroke-linecap="butt">
<rect x="65.5" y="41.0" width="424.0" height="419.0"/>
<path d="M59.0 41.0H65.5M59.0 460.0H65.5M65.5 460.0V466.5M489.5 460.0V466.5"/>
<rect x="556.0" y="41.0" width="424.0" height="419.0"/>
<path d="M549.5 41.0H556.0M549.5 460.0H556.0M556.0 460.0V466.5M980.0 460.0V466.5"/>
<rect x="1046.8" y="41.0" width="424.0" height="419.0"/>
<path d="M1040.3 41.0H1046.8M1040.3 460.0H1046.8M1046.8 460.0V466.5M1470.8 460.0V466.5"/>
<rect x="1537.6" y="41.1" width="423.5" height="418.9"/>
<path d="M1531.1 41.1H1537.6M1531.1 460.0H1537.6M1961.1 41.1H1967.8999999999999M1961.1 460.0H1967.8999999999999M1537.6 460.0V466.5M1961.1 460.0V466.5"/>
<path d="M60.9 537.8V544.3M486.2 537.8V544.3"/>
</g>
<polyline points="1541.8,355.4 1558.8,352.7 1579.9,328.9 1664.6,277.6 1749.3,210.6 1961.1,41.1" fill="none" stroke="#0000FF" stroke-width="3.3" stroke-linejoin="round"/>
<circle cx="1541.8" cy="355.4" r="3.8" fill="#0000FF"/><circle cx="1558.8" cy="352.7" r="3.8" fill="#0000FF"/><circle cx="1579.9" cy="328.9" r="3.8" fill="#0000FF"/><circle cx="1664.6" cy="277.6" r="3.8" fill="#0000FF"/><circle cx="1749.3" cy="210.6" r="3.8" fill="#0000FF"/>
<polyline points="1558.8,72.5 1579.9,114.1 1664.6,276.2 1749.3,303.5 1961.1,460" fill="none" stroke="#FF0000" stroke-width="3.2" stroke-linejoin="round"/>
<circle cx="1558.8" cy="72.5" r="3.8" fill="#FF0000"/><circle cx="1579.9" cy="114.1" r="3.8" fill="#FF0000"/><circle cx="1664.6" cy="276.2" r="3.8" fill="#FF0000"/><circle cx="1749.3" cy="303.5" r="3.8" fill="#FF0000"/>
<g font-family="Liberation Sans, Arial, sans-serif" font-weight="bold" font-size="28">
<text x="277.5" y="30.0" text-anchor="middle" fill="#000" >10 neural networks</text>
<text x="52.5" y="61.2" text-anchor="end" fill="#000" >1</text>
<text x="52.3" y="455.2" text-anchor="end" fill="#000" >0</text>
<text x="66.0" y="493.6" text-anchor="start" fill="#000" >0</text>
<text x="491.0" y="493.6" text-anchor="end" fill="#000" >1</text>
<text x="277.5" y="496.8" text-anchor="middle" fill="#000" >X [mm]</text>
<text transform="translate(50.0 250.5) rotate(-90)" text-anchor="middle">Y [mm]</text>
<text x="768.0" y="30.0" text-anchor="middle" fill="#000" >30 neural networks</text>
<text x="543.0" y="61.2" text-anchor="end" fill="#000" >1</text>
<text x="542.8" y="455.2" text-anchor="end" fill="#000" >0</text>
<text x="556.5" y="493.6" text-anchor="start" fill="#000" >0</text>
<text x="981.5" y="493.6" text-anchor="end" fill="#000" >1</text>
<text x="768.0" y="496.8" text-anchor="middle" fill="#000" >X [mm]</text>
<text transform="translate(540.5 250.5) rotate(-90)" text-anchor="middle">Y [mm]</text>
<text x="1258.8" y="30.0" text-anchor="middle" fill="#000" >100 neural networks</text>
<text x="1033.8" y="61.2" text-anchor="end" fill="#000" >1</text>
<text x="1033.6" y="455.2" text-anchor="end" fill="#000" >0</text>
<text x="1047.3" y="493.6" text-anchor="start" fill="#000" >0</text>
<text x="1472.3" y="493.6" text-anchor="end" fill="#000" >1</text>
<text x="1258.8" y="496.8" text-anchor="middle" fill="#000" >X [mm]</text>
<text transform="translate(1031.3 250.5) rotate(-90)" text-anchor="middle">Y [mm]</text>
<text x="61.5" y="571.0" text-anchor="start" fill="#000" >−7.2</text>
<text x="273" y="568.8" text-anchor="middle" fill="#000" >entropy [-]</text>
<text x="486.5" y="571.0" text-anchor="end" fill="#000" >−2.0</text>
<text x="1523.8" y="61.3" text-anchor="end" fill="#000" >4</text>
<text x="1524.3" y="455.2" text-anchor="end" fill="#000" >0</text>
<text x="1973.0" y="61.3" text-anchor="start" fill="#000" >1</text>
<text x="1973.8" y="455.3" text-anchor="start" fill="#000" >0</text>
<text x="1536.0" y="493.7" text-anchor="start" fill="#000" >0</text>
<text x="1961.5" y="493.7" text-anchor="end" fill="#000" >100</text>
<text x="1749.2" y="496.6" text-anchor="middle" fill="#000" >number of neural nets.</text>
<text transform="translate(1521.2 251) rotate(-90)" text-anchor="middle" fill="#0000FF">normalized training time [-]</text>
<text transform="translate(1991.2 251.4) rotate(-90)" text-anchor="middle" fill="#FF0000">entropy RMSE [-]</text>
</g>
</svg>
</body></html>
